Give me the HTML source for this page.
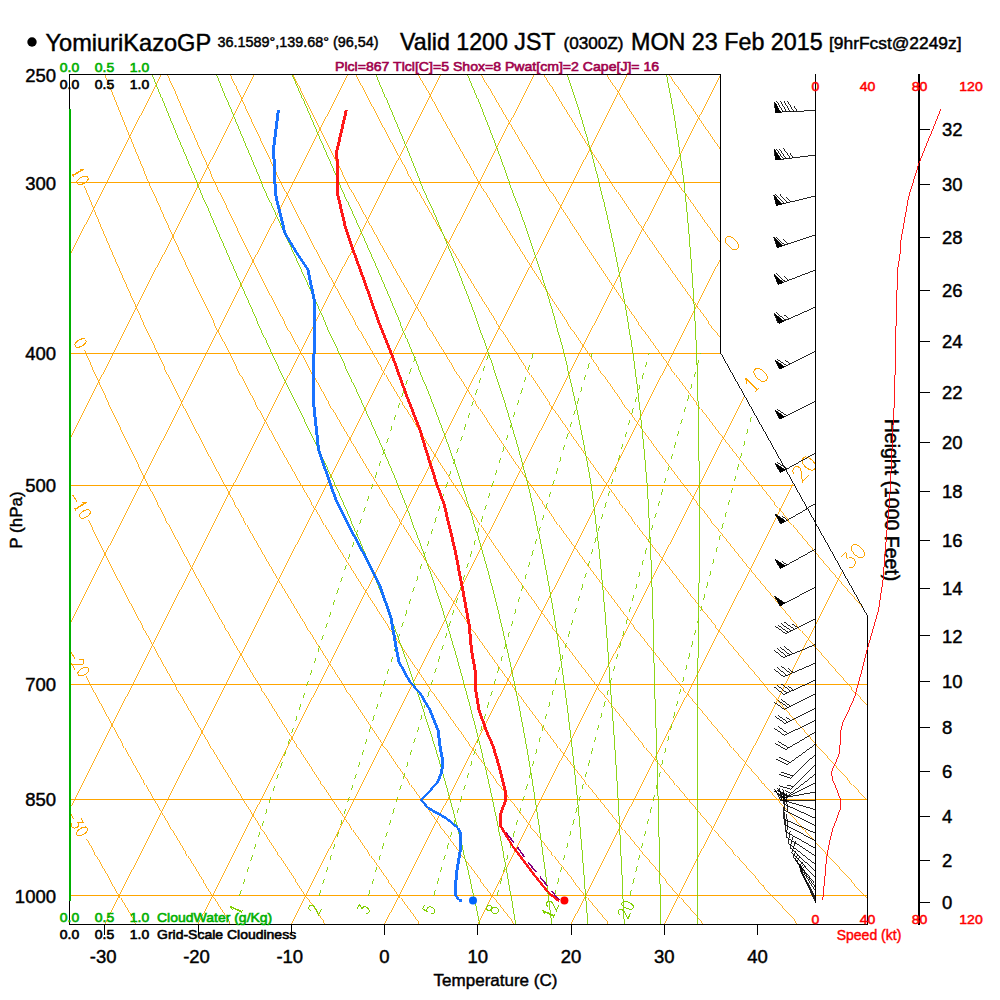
<!DOCTYPE html>
<html><head><meta charset="utf-8"><title>Skew-T</title>
<style>
html,body{margin:0;padding:0;background:#fff}
svg{display:block}
text{font-family:"Liberation Sans",sans-serif}
</style></head>
<body>
<svg width="1000" height="1000" viewBox="0 0 1000 1000">
<rect width="1000" height="1000" fill="#fff"/>
<defs><clipPath id="fr"><polygon points="69.5,74.5 720.5,74.5 720.5,352.8 867.5,616 867.5,924.4 69.5,924.4"/></clipPath></defs>
<g shape-rendering="crispEdges">
<g clip-path="url(#fr)" stroke="#ffa500" stroke-width="0.85" fill="none">
<line x1="69.5" y1="182.5" x2="720.5" y2="182.5" stroke-width="1"/>
<line x1="69.5" y1="353.5" x2="720.5" y2="353.5" stroke-width="1"/>
<line x1="69.5" y1="485.5" x2="794.6" y2="485.5" stroke-width="1"/>
<line x1="69.5" y1="684.5" x2="867.5" y2="684.5" stroke-width="1"/>
<line x1="69.5" y1="799.5" x2="867.5" y2="799.5" stroke-width="1"/>
<line x1="69.5" y1="895.5" x2="867.5" y2="895.5" stroke-width="1"/>
<line x1="-361.5" y1="924.4" x2="67.4" y2="74.5"/>
<line x1="-268.2" y1="924.4" x2="160.7" y2="74.5"/>
<line x1="-175" y1="924.4" x2="253.9" y2="74.5"/>
<line x1="-81.7" y1="924.4" x2="347.2" y2="74.5"/>
<line x1="11.5" y1="924.4" x2="440.4" y2="74.5"/>
<line x1="104.8" y1="924.4" x2="533.7" y2="74.5"/>
<line x1="198" y1="924.4" x2="626.9" y2="74.5"/>
<line x1="291.2" y1="924.4" x2="720.2" y2="74.5"/>
<line x1="384.5" y1="924.4" x2="813.4" y2="74.5"/>
<line x1="477.8" y1="924.4" x2="906.7" y2="74.5"/>
<line x1="571" y1="924.4" x2="999.9" y2="74.5"/>
<line x1="664.2" y1="924.4" x2="1093.2" y2="74.5"/>
<polyline points="136.6,924.4 134.9,921.5 133.2,918.7 131.5,915.8 129.7,913 128,910.1 126.3,907.2 124.6,904.3 122.8,901.4 121.1,898.4 119.3,895.5 117.6,892.5 115.8,889.5 114.1,886.5 112.3,883.5 110.5,880.5 108.8,877.4 107,874.4 105.2,871.3 103.4,868.2 101.6,865.1 99.9,862 98.1,858.8 96.3,855.7 94.4,852.5 92.6,849.3 90.8,846.1 89,842.9 87.2,839.6 86.6,838.5"/>
<polyline points="231.2,924.4 229.3,921.5 227.5,918.7 225.6,915.8 223.8,913 221.9,910.1 220.1,907.2 218.2,904.3 216.3,901.4 214.5,898.4 212.6,895.5 210.7,892.5 208.8,889.5 206.9,886.5 205,883.5 203.1,880.5 201.2,877.4 199.3,874.4 197.4,871.3 195.5,868.2 193.5,865.1 191.6,862 189.7,858.8 187.7,855.7 185.8,852.5 183.8,849.3 181.9,846.1 179.9,842.9 177.9,839.6 176,836.3 174,833.1 172,829.8 170,826.5 168,823.1 166,819.8 164,816.4 162,813 160,809.6 158,806.1 156,802.7 153.9,799.2 151.9,795.7 149.9,792.2 147.8,788.7 145.8,785.1 143.7,781.5 141.6,777.9 139.6,774.3 137.5,770.7 135.4,767 133.3,763.3 131.2,759.6 129.1,755.9 127,752.1 124.9,748.3 122.8,744.5 120.7,740.7 118.5,736.8 116.4,732.9 114.3,729 112.1,725.1 110,721.1 107.8,717.1 105.6,713.1 103.5,709.1 101.3,705 99.1,700.9 96.9,696.8 94.7,692.6 92.5,688.5 90.3,684.2 88,680 85.9,676"/>
<polyline points="325.7,924.4 323.8,921.5 321.8,918.7 319.8,915.8 317.8,913 315.8,910.1 313.9,907.2 311.9,904.3 309.9,901.4 307.8,898.4 305.8,895.5 303.8,892.5 301.8,889.5 299.8,886.5 297.7,883.5 295.7,880.5 293.7,877.4 291.6,874.4 289.6,871.3 287.5,868.2 285.4,865.1 283.4,862 281.3,858.8 279.2,855.7 277.1,852.5 275,849.3 272.9,846.1 270.8,842.9 268.7,839.6 266.6,836.3 264.5,833.1 262.4,829.8 260.2,826.5 258.1,823.1 255.9,819.8 253.8,816.4 251.6,813 249.5,809.6 247.3,806.1 245.1,802.7 243,799.2 240.8,795.7 238.6,792.2 236.4,788.7 234.2,785.1 232,781.5 229.8,777.9 227.5,774.3 225.3,770.7 223.1,767 220.8,763.3 218.6,759.6 216.3,755.9 214,752.1 211.8,748.3 209.5,744.5 207.2,740.7 204.9,736.8 202.6,732.9 200.3,729 198,725.1 195.7,721.1 193.4,717.1 191,713.1 188.7,709.1 186.3,705 184,700.9 181.6,696.8 179.2,692.6 176.9,688.5 174.5,684.2 172.1,680 169.7,675.7 167.3,671.4 164.8,667.1 162.4,662.7 160,658.3 157.5,653.9 155.1,649.4 152.6,644.9 150.1,640.4 147.7,635.8 145.2,631.2 142.7,626.5 140.2,621.8 137.7,617.1 135.1,612.4 132.6,607.6 130.1,602.7 127.5,597.9 125,593 122.4,588 119.8,583 117.2,578 114.6,572.9 112,567.7 109.4,562.6 106.8,557.4 104.2,552.1 101.5,546.8 98.9,541.4 96.2,536 93.5,530.6 90.8,525 88.4,520"/>
<polyline points="420.3,924.4 418.2,921.5 416.1,918.7 414,915.8 411.9,913 409.8,910.1 407.6,907.2 405.5,904.3 403.4,901.4 401.2,898.4 399.1,895.5 396.9,892.5 394.8,889.5 392.6,886.5 390.4,883.5 388.3,880.5 386.1,877.4 383.9,874.4 381.7,871.3 379.5,868.2 377.3,865.1 375.1,862 372.9,858.8 370.7,855.7 368.5,852.5 366.2,849.3 364,846.1 361.7,842.9 359.5,839.6 357.2,836.3 355,833.1 352.7,829.8 350.4,826.5 348.1,823.1 345.8,819.8 343.6,816.4 341.3,813 338.9,809.6 336.6,806.1 334.3,802.7 332,799.2 329.6,795.7 327.3,792.2 324.9,788.7 322.6,785.1 320.2,781.5 317.9,777.9 315.5,774.3 313.1,770.7 310.7,767 308.3,763.3 305.9,759.6 303.5,755.9 301.1,752.1 298.6,748.3 296.2,744.5 293.7,740.7 291.3,736.8 288.8,732.9 286.4,729 283.9,725.1 281.4,721.1 278.9,717.1 276.4,713.1 273.9,709.1 271.4,705 268.9,700.9 266.3,696.8 263.8,692.6 261.2,688.5 258.7,684.2 256.1,680 253.5,675.7 250.9,671.4 248.3,667.1 245.7,662.7 243.1,658.3 240.5,653.9 237.9,649.4 235.2,644.9 232.6,640.4 229.9,635.8 227.3,631.2 224.6,626.5 221.9,621.8 219.2,617.1 216.5,612.4 213.8,607.6 211,602.7 208.3,597.9 205.5,593 202.8,588 200,583 197.2,578 194.4,572.9 191.6,567.7 188.8,562.6 186,557.4 183.2,552.1 180.3,546.8 177.5,541.4 174.6,536 171.7,530.6 168.8,525 165.9,519.5 163,513.9 160.1,508.2 157.1,502.5 154.2,496.7 151.2,490.9 148.2,485 145.2,479 142.2,473 139.2,466.9 136.2,460.8 133.1,454.6 130.1,448.3 127,442 123.9,435.6 120.8,429.1 117.7,422.6 114.6,416 111.4,409.3 108.3,402.5 105.1,395.7 101.9,388.7 98.7,381.7 95.5,374.6 92.3,367.5 89,360.2 85.7,352.8 84.5,350"/>
<polyline points="514.9,924.4 512.6,921.5 510.4,918.7 508.2,915.8 505.9,913 503.7,910.1 501.4,907.2 499.1,904.3 496.9,901.4 494.6,898.4 492.3,895.5 490,892.5 487.8,889.5 485.5,886.5 483.2,883.5 480.9,880.5 478.5,877.4 476.2,874.4 473.9,871.3 471.6,868.2 469.2,865.1 466.9,862 464.5,858.8 462.2,855.7 459.8,852.5 457.4,849.3 455,846.1 452.6,842.9 450.3,839.6 447.9,836.3 445.4,833.1 443,829.8 440.6,826.5 438.2,823.1 435.8,819.8 433.3,816.4 430.9,813 428.4,809.6 425.9,806.1 423.5,802.7 421,799.2 418.5,795.7 416,792.2 413.5,788.7 411,785.1 408.5,781.5 406,777.9 403.4,774.3 400.9,770.7 398.3,767 395.8,763.3 393.2,759.6 390.6,755.9 388.1,752.1 385.5,748.3 382.9,744.5 380.3,740.7 377.7,736.8 375,732.9 372.4,729 369.8,725.1 367.1,721.1 364.5,717.1 361.8,713.1 359.1,709.1 356.4,705 353.7,700.9 351,696.8 348.3,692.6 345.6,688.5 342.9,684.2 340.1,680 337.4,675.7 334.6,671.4 331.9,667.1 329.1,662.7 326.3,658.3 323.5,653.9 320.7,649.4 317.9,644.9 315,640.4 312.2,635.8 309.3,631.2 306.5,626.5 303.6,621.8 300.7,617.1 297.8,612.4 294.9,607.6 292,602.7 289.1,597.9 286.1,593 283.2,588 280.2,583 277.2,578 274.2,572.9 271.2,567.7 268.2,562.6 265.2,557.4 262.2,552.1 259.1,546.8 256,541.4 253,536 249.9,530.6 246.8,525 243.7,519.5 240.5,513.9 237.4,508.2 234.2,502.5 231.1,496.7 227.9,490.9 224.7,485 221.5,479 218.3,473 215,466.9 211.8,460.8 208.5,454.6 205.2,448.3 201.9,442 198.6,435.6 195.2,429.1 191.9,422.6 188.5,416 185.2,409.3 181.8,402.5 178.3,395.7 174.9,388.7 171.5,381.7 168,374.6 164.5,367.5 161,360.2 157.5,352.8 154,345.4 150.4,337.8 146.8,330.2 143.2,322.5 139.6,314.6 136,306.7 132.4,298.6 128.7,290.4 125,282.2 121.3,273.8 117.6,265.2 113.8,256.6 110,247.8 106.2,238.9 102.4,229.9 98.6,220.7 94.7,211.4 90.8,201.9 86.9,192.3 84.4,186"/>
<polyline points="609.4,924.4 607.1,921.5 604.7,918.7 602.3,915.8 600,913 597.6,910.1 595.2,907.2 592.8,904.3 590.4,901.4 588,898.4 585.6,895.5 583.2,892.5 580.7,889.5 578.3,886.5 575.9,883.5 573.4,880.5 571,877.4 568.5,874.4 566.1,871.3 563.6,868.2 561.1,865.1 558.6,862 556.1,858.8 553.6,855.7 551.1,852.5 548.6,849.3 546.1,846.1 543.6,842.9 541,839.6 538.5,836.3 535.9,833.1 533.4,829.8 530.8,826.5 528.2,823.1 525.7,819.8 523.1,816.4 520.5,813 517.9,809.6 515.3,806.1 512.6,802.7 510,799.2 507.4,795.7 504.7,792.2 502.1,788.7 499.4,785.1 496.7,781.5 494.1,777.9 491.4,774.3 488.7,770.7 486,767 483.3,763.3 480.5,759.6 477.8,755.9 475.1,752.1 472.3,748.3 469.6,744.5 466.8,740.7 464,736.8 461.3,732.9 458.5,729 455.7,725.1 452.8,721.1 450,717.1 447.2,713.1 444.3,709.1 441.5,705 438.6,700.9 435.8,696.8 432.9,692.6 430,688.5 427.1,684.2 424.2,680 421.2,675.7 418.3,671.4 415.4,667.1 412.4,662.7 409.4,658.3 406.5,653.9 403.5,649.4 400.5,644.9 397.5,640.4 394.4,635.8 391.4,631.2 388.4,626.5 385.3,621.8 382.2,617.1 379.1,612.4 376.1,607.6 372.9,602.7 369.8,597.9 366.7,593 363.5,588 360.4,583 357.2,578 354,572.9 350.8,567.7 347.6,562.6 344.4,557.4 341.2,552.1 337.9,546.8 334.6,541.4 331.4,536 328.1,530.6 324.8,525 321.4,519.5 318.1,513.9 314.7,508.2 311.4,502.5 308,496.7 304.6,490.9 301.2,485 297.7,479 294.3,473 290.8,466.9 287.4,460.8 283.9,454.6 280.3,448.3 276.8,442 273.3,435.6 269.7,429.1 266.1,422.6 262.5,416 258.9,409.3 255.3,402.5 251.6,395.7 247.9,388.7 244.2,381.7 240.5,374.6 236.8,367.5 233,360.2 229.3,352.8 225.5,345.4 221.6,337.8 217.8,330.2 214,322.5 210.1,314.6 206.2,306.7 202.2,298.6 198.3,290.4 194.3,282.2 190.3,273.8 186.3,265.2 182.3,256.6 178.2,247.8 174.1,238.9 170,229.9 165.9,220.7 161.7,211.4 157.6,201.9 153.3,192.3 149.1,182.5 144.8,172.5 140.5,162.4 136.2,152.1 131.9,141.6 127.5,130.9 123.1,120.1 118.6,109 114.2,97.7 109.7,86.2 105.2,74.5"/>
<polyline points="704,924.4 701.5,921.5 699,918.7 696.5,915.8 694,913 691.5,910.1 689,907.2 686.4,904.3 683.9,901.4 681.4,898.4 678.8,895.5 676.3,892.5 673.7,889.5 671.2,886.5 668.6,883.5 666,880.5 663.4,877.4 660.8,874.4 658.2,871.3 655.6,868.2 653,865.1 650.4,862 647.7,858.8 645.1,855.7 642.5,852.5 639.8,849.3 637.1,846.1 634.5,842.9 631.8,839.6 629.1,836.3 626.4,833.1 623.7,829.8 621,826.5 618.3,823.1 615.6,819.8 612.8,816.4 610.1,813 607.3,809.6 604.6,806.1 601.8,802.7 599,799.2 596.2,795.7 593.4,792.2 590.6,788.7 587.8,785.1 585,781.5 582.2,777.9 579.3,774.3 576.5,770.7 573.6,767 570.8,763.3 567.9,759.6 565,755.9 562.1,752.1 559.2,748.3 556.3,744.5 553.3,740.7 550.4,736.8 547.5,732.9 544.5,729 541.5,725.1 538.6,721.1 535.6,717.1 532.6,713.1 529.6,709.1 526.6,705 523.5,700.9 520.5,696.8 517.4,692.6 514.4,688.5 511.3,684.2 508.2,680 505.1,675.7 502,671.4 498.9,667.1 495.7,662.7 492.6,658.3 489.4,653.9 486.3,649.4 483.1,644.9 479.9,640.4 476.7,635.8 473.5,631.2 470.3,626.5 467,621.8 463.8,617.1 460.5,612.4 457.2,607.6 453.9,602.7 450.6,597.9 447.3,593 443.9,588 440.6,583 437.2,578 433.8,572.9 430.4,567.7 427,562.6 423.6,557.4 420.2,552.1 416.7,546.8 413.2,541.4 409.8,536 406.3,530.6 402.7,525 399.2,519.5 395.7,513.9 392.1,508.2 388.5,502.5 384.9,496.7 381.3,490.9 377.7,485 374,479 370.3,473 366.6,466.9 362.9,460.8 359.2,454.6 355.5,448.3 351.7,442 347.9,435.6 344.1,429.1 340.3,422.6 336.5,416 332.6,409.3 328.7,402.5 324.8,395.7 320.9,388.7 317,381.7 313,374.6 309,367.5 305,360.2 301,352.8 297,345.4 292.9,337.8 288.8,330.2 284.7,322.5 280.5,314.6 276.3,306.7 272.1,298.6 267.9,290.4 263.7,282.2 259.4,273.8 255.1,265.2 250.8,256.6 246.4,247.8 242.1,238.9 237.7,229.9 233.2,220.7 228.8,211.4 224.3,201.9 219.7,192.3 215.2,182.5 210.6,172.5 206,162.4 201.3,152.1 196.7,141.6 192,130.9 187.2,120.1 182.4,109 177.6,97.7 172.8,86.2 167.9,74.5"/>
<polyline points="798.5,924.4 795.9,921.5 793.3,918.7 790.7,915.8 788,913 785.4,910.1 782.7,907.2 780.1,904.3 777.4,901.4 774.8,898.4 772.1,895.5 769.4,892.5 766.7,889.5 764,886.5 761.3,883.5 758.6,880.5 755.9,877.4 753.1,874.4 750.4,871.3 747.6,868.2 744.9,865.1 742.1,862 739.4,858.8 736.6,855.7 733.8,852.5 731,849.3 728.2,846.1 725.4,842.9 722.6,839.6 719.7,836.3 716.9,833.1 714,829.8 711.2,826.5 708.3,823.1 705.5,819.8 702.6,816.4 699.7,813 696.8,809.6 693.9,806.1 691,802.7 688,799.2 685.1,795.7 682.2,792.2 679.2,788.7 676.2,785.1 673.3,781.5 670.3,777.9 667.3,774.3 664.3,770.7 661.3,767 658.2,763.3 655.2,759.6 652.2,755.9 649.1,752.1 646,748.3 643,744.5 639.9,740.7 636.8,736.8 633.7,732.9 630.6,729 627.4,725.1 624.3,721.1 621.1,717.1 618,713.1 614.8,709.1 611.6,705 608.4,700.9 605.2,696.8 602,692.6 598.7,688.5 595.5,684.2 592.2,680 589,675.7 585.7,671.4 582.4,667.1 579.1,662.7 575.8,658.3 572.4,653.9 569.1,649.4 565.7,644.9 562.3,640.4 559,635.8 555.6,631.2 552.1,626.5 548.7,621.8 545.3,617.1 541.8,612.4 538.3,607.6 534.9,602.7 531.4,597.9 527.8,593 524.3,588 520.8,583 517.2,578 513.6,572.9 510,567.7 506.4,562.6 502.8,557.4 499.2,552.1 495.5,546.8 491.8,541.4 488.1,536 484.4,530.6 480.7,525 477,519.5 473.2,513.9 469.4,508.2 465.6,502.5 461.8,496.7 458,490.9 454.1,485 450.3,479 446.4,473 442.5,466.9 438.5,460.8 434.6,454.6 430.6,448.3 426.6,442 422.6,435.6 418.6,429.1 414.5,422.6 410.5,416 406.4,409.3 402.2,402.5 398.1,395.7 393.9,388.7 389.7,381.7 385.5,374.6 381.3,367.5 377,360.2 372.8,352.8 368.4,345.4 364.1,337.8 359.8,330.2 355.4,322.5 351,314.6 346.5,306.7 342,298.6 337.6,290.4 333,282.2 328.5,273.8 323.9,265.2 319.3,256.6 314.6,247.8 310,238.9 305.3,229.9 300.5,220.7 295.8,211.4 291,201.9 286.1,192.3 281.3,182.5 276.4,172.5 271.4,162.4 266.5,152.1 261.5,141.6 256.4,130.9 251.3,120.1 246.2,109 241.1,97.7 235.9,86.2 230.6,74.5"/>
<polyline points="893.1,924.4 890.4,921.5 887.6,918.7 884.8,915.8 882.1,913 879.3,910.1 876.5,907.2 873.7,904.3 870.9,901.4 868.1,898.4 865.3,895.5 862.5,892.5 859.7,889.5 856.9,886.5 854,883.5 851.2,880.5 848.3,877.4 845.4,874.4 842.6,871.3 839.7,868.2 836.8,865.1 833.9,862 831,858.8 828.1,855.7 825.1,852.5 822.2,849.3 819.2,846.1 816.3,842.9 813.3,839.6 810.4,836.3 807.4,833.1 804.4,829.8 801.4,826.5 798.4,823.1 795.4,819.8 792.3,816.4 789.3,813 786.2,809.6 783.2,806.1 780.1,802.7 777,799.2 774,795.7 770.9,792.2 767.8,788.7 764.6,785.1 761.5,781.5 758.4,777.9 755.2,774.3 752.1,770.7 748.9,767 745.7,763.3 742.5,759.6 739.3,755.9 736.1,752.1 732.9,748.3 729.7,744.5 726.4,740.7 723.2,736.8 719.9,732.9 716.6,729 713.3,725.1 710,721.1 706.7,717.1 703.4,713.1 700,709.1 696.7,705 693.3,700.9 689.9,696.8 686.5,692.6 683.1,688.5 679.7,684.2 676.3,680 672.8,675.7 669.4,671.4 665.9,667.1 662.4,662.7 658.9,658.3 655.4,653.9 651.9,649.4 648.3,644.9 644.8,640.4 641.2,635.8 637.6,631.2 634,626.5 630.4,621.8 626.8,617.1 623.1,612.4 619.5,607.6 615.8,602.7 612.1,597.9 608.4,593 604.7,588 601,583 597.2,578 593.4,572.9 589.6,567.7 585.8,562.6 582,557.4 578.2,552.1 574.3,546.8 570.4,541.4 566.5,536 562.6,530.6 558.7,525 554.7,519.5 550.8,513.9 546.8,508.2 542.8,502.5 538.7,496.7 534.7,490.9 530.6,485 526.5,479 522.4,473 518.3,466.9 514.1,460.8 510,454.6 505.8,448.3 501.5,442 497.3,435.6 493,429.1 488.7,422.6 484.4,416 480.1,409.3 475.7,402.5 471.4,395.7 466.9,388.7 462.5,381.7 458,374.6 453.6,367.5 449,360.2 444.5,352.8 439.9,345.4 435.3,337.8 430.7,330.2 426.1,322.5 421.4,314.6 416.7,306.7 411.9,298.6 407.2,290.4 402.4,282.2 397.5,273.8 392.7,265.2 387.8,256.6 382.8,247.8 377.9,238.9 372.9,229.9 367.9,220.7 362.8,211.4 357.7,201.9 352.5,192.3 347.4,182.5 342.1,172.5 336.9,162.4 331.6,152.1 326.3,141.6 320.9,130.9 315.5,120.1 310,109 304.5,97.7 298.9,86.2 293.3,74.5"/>
<polyline points="987.7,924.4 984.8,921.5 981.9,918.7 979,915.8 976.1,913 973.2,910.1 970.3,907.2 967.4,904.3 964.5,901.4 961.5,898.4 958.6,895.5 955.6,892.5 952.7,889.5 949.7,886.5 946.7,883.5 943.7,880.5 940.7,877.4 937.7,874.4 934.7,871.3 931.7,868.2 928.7,865.1 925.6,862 922.6,858.8 919.5,855.7 916.5,852.5 913.4,849.3 910.3,846.1 907.2,842.9 904.1,839.6 901,836.3 897.9,833.1 894.7,829.8 891.6,826.5 888.4,823.1 885.3,819.8 882.1,816.4 878.9,813 875.7,809.6 872.5,806.1 869.3,802.7 866.1,799.2 862.8,795.7 859.6,792.2 856.3,788.7 853.1,785.1 849.8,781.5 846.5,777.9 843.2,774.3 839.9,770.7 836.5,767 833.2,763.3 829.9,759.6 826.5,755.9 823.1,752.1 819.7,748.3 816.4,744.5 812.9,740.7 809.5,736.8 806.1,732.9 802.7,729 799.2,725.1 795.7,721.1 792.2,717.1 788.7,713.1 785.2,709.1 781.7,705 778.2,700.9 774.6,696.8 771.1,692.6 767.5,688.5 763.9,684.2 760.3,680 756.7,675.7 753.1,671.4 749.4,667.1 745.8,662.7 742.1,658.3 738.4,653.9 734.7,649.4 731,644.9 727.2,640.4 723.5,635.8 719.7,631.2 715.9,626.5 712.1,621.8 708.3,617.1 704.5,612.4 700.6,607.6 696.8,602.7 692.9,597.9 689,593 685.1,588 681.1,583 677.2,578 673.2,572.9 669.2,567.7 665.2,562.6 661.2,557.4 657.2,552.1 653.1,546.8 649,541.4 644.9,536 640.8,530.6 636.7,525 632.5,519.5 628.3,513.9 624.1,508.2 619.9,502.5 615.7,496.7 611.4,490.9 607.1,485 602.8,479 598.5,473 594.1,466.9 589.7,460.8 585.3,454.6 580.9,448.3 576.4,442 572,435.6 567.5,429.1 563,422.6 558.4,416 553.8,409.3 549.2,402.5 544.6,395.7 540,388.7 535.3,381.7 530.6,374.6 525.8,367.5 521.1,360.2 516.3,352.8 511.4,345.4 506.6,337.8 501.7,330.2 496.8,322.5 491.8,314.6 486.9,306.7 481.8,298.6 476.8,290.4 471.7,282.2 466.6,273.8 461.5,265.2 456.3,256.6 451.1,247.8 445.8,238.9 440.5,229.9 435.2,220.7 429.8,211.4 424.4,201.9 418.9,192.3 413.4,182.5 407.9,172.5 402.3,162.4 396.7,152.1 391,141.6 385.3,130.9 379.6,120.1 373.8,109 367.9,97.7 362,86.2 356.1,74.5"/>
<polyline points="1082.2,924.4 1079.2,921.5 1076.2,918.7 1073.2,915.8 1070.2,913 1067.1,910.1 1064.1,907.2 1061,904.3 1058,901.4 1054.9,898.4 1051.8,895.5 1048.7,892.5 1045.7,889.5 1042.5,886.5 1039.4,883.5 1036.3,880.5 1033.2,877.4 1030,874.4 1026.9,871.3 1023.7,868.2 1020.6,865.1 1017.4,862 1014.2,858.8 1011,855.7 1007.8,852.5 1004.6,849.3 1001.3,846.1 998.1,842.9 994.9,839.6 991.6,836.3 988.3,833.1 985.1,829.8 981.8,826.5 978.5,823.1 975.2,819.8 971.8,816.4 968.5,813 965.2,809.6 961.8,806.1 958.5,802.7 955.1,799.2 951.7,795.7 948.3,792.2 944.9,788.7 941.5,785.1 938,781.5 934.6,777.9 931.1,774.3 927.7,770.7 924.2,767 920.7,763.3 917.2,759.6 913.7,755.9 910.1,752.1 906.6,748.3 903,744.5 899.5,740.7 895.9,736.8 892.3,732.9 888.7,729 885.1,725.1 881.4,721.1 877.8,717.1 874.1,713.1 870.5,709.1 866.8,705 863.1,700.9 859.4,696.8 855.6,692.6 851.9,688.5 848.1,684.2 844.3,680 840.6,675.7 836.7,671.4 832.9,667.1 829.1,662.7 825.2,658.3 821.4,653.9 817.5,649.4 813.6,644.9 809.7,640.4 805.7,635.8 801.8,631.2 797.8,626.5 793.8,621.8 789.8,617.1 785.8,612.4 781.8,607.6 777.7,602.7 773.7,597.9 769.6,593 765.5,588 761.3,583 757.2,578 753,572.9 748.8,567.7 744.6,562.6 740.4,557.4 736.2,552.1 731.9,546.8 727.6,541.4 723.3,536 719,530.6 714.6,525 710.3,519.5 705.9,513.9 701.5,508.2 697,502.5 692.6,496.7 688.1,490.9 683.6,485 679,479 674.5,473 669.9,466.9 665.3,460.8 660.7,454.6 656,448.3 651.4,442 646.7,435.6 641.9,429.1 637.2,422.6 632.4,416 627.6,409.3 622.7,402.5 617.9,395.7 613,388.7 608,381.7 603.1,374.6 598.1,367.5 593.1,360.2 588,352.8 582.9,345.4 577.8,337.8 572.7,330.2 567.5,322.5 562.3,314.6 557,306.7 551.7,298.6 546.4,290.4 541.1,282.2 535.7,273.8 530.2,265.2 524.8,256.6 519.3,247.8 513.7,238.9 508.1,229.9 502.5,220.7 496.8,211.4 491.1,201.9 485.3,192.3 479.5,182.5 473.7,172.5 467.8,162.4 461.8,152.1 455.8,141.6 449.8,130.9 443.7,120.1 437.6,109 431.4,97.7 425.1,86.2 418.8,74.5"/>
<polyline points="1176.8,924.4 1173.6,921.5 1170.5,918.7 1167.4,915.8 1164.2,913 1161,910.1 1157.9,907.2 1154.7,904.3 1151.5,901.4 1148.3,898.4 1145.1,895.5 1141.9,892.5 1138.6,889.5 1135.4,886.5 1132.1,883.5 1128.9,880.5 1125.6,877.4 1122.3,874.4 1119.1,871.3 1115.8,868.2 1112.5,865.1 1109.1,862 1105.8,858.8 1102.5,855.7 1099.1,852.5 1095.8,849.3 1092.4,846.1 1089,842.9 1085.6,839.6 1082.2,836.3 1078.8,833.1 1075.4,829.8 1072,826.5 1068.5,823.1 1065.1,819.8 1061.6,816.4 1058.1,813 1054.6,809.6 1051.1,806.1 1047.6,802.7 1044.1,799.2 1040.6,795.7 1037,792.2 1033.4,788.7 1029.9,785.1 1026.3,781.5 1022.7,777.9 1019.1,774.3 1015.5,770.7 1011.8,767 1008.2,763.3 1004.5,759.6 1000.8,755.9 997.2,752.1 993.5,748.3 989.7,744.5 986,740.7 982.3,736.8 978.5,732.9 974.7,729 971,725.1 967.2,721.1 963.4,717.1 959.5,713.1 955.7,709.1 951.8,705 948,700.9 944.1,696.8 940.2,692.6 936.3,688.5 932.3,684.2 928.4,680 924.4,675.7 920.4,671.4 916.4,667.1 912.4,662.7 908.4,658.3 904.3,653.9 900.3,649.4 896.2,644.9 892.1,640.4 888,635.8 883.9,631.2 879.7,626.5 875.5,621.8 871.4,617.1 867.2,612.4 862.9,607.6 858.7,602.7 854.4,597.9 850.1,593 845.8,588 841.5,583 837.2,578 832.8,572.9 828.4,567.7 824,562.6 819.6,557.4 815.2,552.1 810.7,546.8 806.2,541.4 801.7,536 797.2,530.6 792.6,525 788,519.5 783.4,513.9 778.8,508.2 774.2,502.5 769.5,496.7 764.8,490.9 760.1,485 755.3,479 750.5,473 745.7,466.9 740.9,460.8 736.1,454.6 731.2,448.3 726.3,442 721.3,435.6 716.4,429.1 711.4,422.6 706.4,416 701.3,409.3 696.2,402.5 691.1,395.7 686,388.7 680.8,381.7 675.6,374.6 670.3,367.5 665.1,360.2 659.8,352.8 654.4,345.4 649.1,337.8 643.6,330.2 638.2,322.5 632.7,314.6 627.2,306.7 621.6,298.6 616,290.4 610.4,282.2 604.7,273.8 599,265.2 593.3,256.6 587.5,247.8 581.6,238.9 575.7,229.9 569.8,220.7 563.8,211.4 557.8,201.9 551.7,192.3 545.6,182.5 539.4,172.5 533.2,162.4 527,152.1 520.6,141.6 514.3,130.9 507.8,120.1 501.3,109 494.8,97.7 488.2,86.2 481.5,74.5"/>
<polyline points="1271.3,924.4 1268.1,921.5 1264.8,918.7 1261.5,915.8 1258.2,913 1255,910.1 1251.6,907.2 1248.3,904.3 1245,901.4 1241.7,898.4 1238.3,895.5 1235,892.5 1231.6,889.5 1228.2,886.5 1224.9,883.5 1221.5,880.5 1218.1,877.4 1214.7,874.4 1211.2,871.3 1207.8,868.2 1204.3,865.1 1200.9,862 1197.4,858.8 1193.9,855.7 1190.5,852.5 1187,849.3 1183.5,846.1 1179.9,842.9 1176.4,839.6 1172.9,836.3 1169.3,833.1 1165.7,829.8 1162.2,826.5 1158.6,823.1 1155,819.8 1151.4,816.4 1147.7,813 1144.1,809.6 1140.4,806.1 1136.8,802.7 1133.1,799.2 1129.4,795.7 1125.7,792.2 1122,788.7 1118.3,785.1 1114.5,781.5 1110.8,777.9 1107,774.3 1103.3,770.7 1099.5,767 1095.7,763.3 1091.8,759.6 1088,755.9 1084.2,752.1 1080.3,748.3 1076.4,744.5 1072.5,740.7 1068.6,736.8 1064.7,732.9 1060.8,729 1056.8,725.1 1052.9,721.1 1048.9,717.1 1044.9,713.1 1040.9,709.1 1036.9,705 1032.8,700.9 1028.8,696.8 1024.7,692.6 1020.6,688.5 1016.5,684.2 1012.4,680 1008.3,675.7 1004.1,671.4 999.9,667.1 995.8,662.7 991.6,658.3 987.3,653.9 983.1,649.4 978.8,644.9 974.5,640.4 970.3,635.8 965.9,631.2 961.6,626.5 957.2,621.8 952.9,617.1 948.5,612.4 944.1,607.6 939.6,602.7 935.2,597.9 930.7,593 926.2,588 921.7,583 917.2,578 912.6,572.9 908,567.7 903.4,562.6 898.8,557.4 894.2,552.1 889.5,546.8 884.8,541.4 880.1,536 875.3,530.6 870.6,525 865.8,519.5 861,513.9 856.1,508.2 851.3,502.5 846.4,496.7 841.5,490.9 836.5,485 831.6,479 826.6,473 821.6,466.9 816.5,460.8 811.4,454.6 806.3,448.3 801.2,442 796,435.6 790.8,429.1 785.6,422.6 780.3,416 775,409.3 769.7,402.5 764.4,395.7 759,388.7 753.6,381.7 748.1,374.6 742.6,367.5 737.1,360.2 731.5,352.8 725.9,345.4 720.3,337.8 714.6,330.2 708.9,322.5 703.2,314.6 697.4,306.7 691.5,298.6 685.7,290.4 679.8,282.2 673.8,273.8 667.8,265.2 661.8,256.6 655.7,247.8 649.5,238.9 643.3,229.9 637.1,220.7 630.8,211.4 624.5,201.9 618.1,192.3 611.7,182.5 605.2,172.5 598.7,162.4 592.1,152.1 585.4,141.6 578.7,130.9 572,120.1 565.1,109 558.2,97.7 551.3,86.2 544.3,74.5"/>
<polyline points="1365.9,924.4 1362.5,921.5 1359.1,918.7 1355.7,915.8 1352.3,913 1348.9,910.1 1345.4,907.2 1342,904.3 1338.5,901.4 1335.1,898.4 1331.6,895.5 1328.1,892.5 1324.6,889.5 1321.1,886.5 1317.6,883.5 1314,880.5 1310.5,877.4 1307,874.4 1303.4,871.3 1299.8,868.2 1296.2,865.1 1292.6,862 1289,858.8 1285.4,855.7 1281.8,852.5 1278.2,849.3 1274.5,846.1 1270.8,842.9 1267.2,839.6 1263.5,836.3 1259.8,833.1 1256.1,829.8 1252.4,826.5 1248.6,823.1 1244.9,819.8 1241.1,816.4 1237.3,813 1233.6,809.6 1229.8,806.1 1225.9,802.7 1222.1,799.2 1218.3,795.7 1214.4,792.2 1210.6,788.7 1206.7,785.1 1202.8,781.5 1198.9,777.9 1195,774.3 1191.1,770.7 1187.1,767 1183.1,763.3 1179.2,759.6 1175.2,755.9 1171.2,752.1 1167.2,748.3 1163.1,744.5 1159.1,740.7 1155,736.8 1150.9,732.9 1146.8,729 1142.7,725.1 1138.6,721.1 1134.5,717.1 1130.3,713.1 1126.1,709.1 1121.9,705 1117.7,700.9 1113.5,696.8 1109.3,692.6 1105,688.5 1100.7,684.2 1096.4,680 1092.1,675.7 1087.8,671.4 1083.5,667.1 1079.1,662.7 1074.7,658.3 1070.3,653.9 1065.9,649.4 1061.4,644.9 1057,640.4 1052.5,635.8 1048,631.2 1043.5,626.5 1039,621.8 1034.4,617.1 1029.8,612.4 1025.2,607.6 1020.6,602.7 1016,597.9 1011.3,593 1006.6,588 1001.9,583 997.2,578 992.4,572.9 987.6,567.7 982.8,562.6 978,557.4 973.2,552.1 968.3,546.8 963.4,541.4 958.5,536 953.5,530.6 948.6,525 943.6,519.5 938.5,513.9 933.5,508.2 928.4,502.5 923.3,496.7 918.2,490.9 913,485 907.8,479 902.6,473 897.4,466.9 892.1,460.8 886.8,454.6 881.5,448.3 876.1,442 870.7,435.6 865.3,429.1 859.8,422.6 854.3,416 848.8,409.3 843.2,402.5 837.6,395.7 832,388.7 826.3,381.7 820.6,374.6 814.9,367.5 809.1,360.2 803.3,352.8 797.4,345.4 791.5,337.8 785.6,330.2 779.6,322.5 773.6,314.6 767.5,306.7 761.4,298.6 755.3,290.4 749.1,282.2 742.9,273.8 736.6,265.2 730.2,256.6 723.9,247.8 717.4,238.9 711,229.9 704.4,220.7 697.9,211.4 691.2,201.9 684.5,192.3 677.8,182.5 671,172.5 664.1,162.4 657.2,152.1 650.2,141.6 643.2,130.9 636.1,120.1 628.9,109 621.7,97.7 614.4,86.2 607,74.5"/>
<polyline points="1460.5,924.4 1456.9,921.5 1453.4,918.7 1449.9,915.8 1446.3,913 1442.8,910.1 1439.2,907.2 1435.6,904.3 1432,901.4 1428.4,898.4 1424.8,895.5 1421.2,892.5 1417.6,889.5 1413.9,886.5 1410.3,883.5 1406.6,880.5 1402.9,877.4 1399.3,874.4 1395.6,871.3 1391.9,868.2 1388.1,865.1 1384.4,862 1380.7,858.8 1376.9,855.7 1373.1,852.5 1369.4,849.3 1365.6,846.1 1361.8,842.9 1357.9,839.6 1354.1,836.3 1350.3,833.1 1346.4,829.8 1342.5,826.5 1338.7,823.1 1334.8,819.8 1330.9,816.4 1326.9,813 1323,809.6 1319.1,806.1 1315.1,802.7 1311.1,799.2 1307.2,795.7 1303.2,792.2 1299.1,788.7 1295.1,785.1 1291.1,781.5 1287,777.9 1282.9,774.3 1278.8,770.7 1274.7,767 1270.6,763.3 1266.5,759.6 1262.4,755.9 1258.2,752.1 1254,748.3 1249.8,744.5 1245.6,740.7 1241.4,736.8 1237.1,732.9 1232.9,729 1228.6,725.1 1224.3,721.1 1220,717.1 1215.7,713.1 1211.4,709.1 1207,705 1202.6,700.9 1198.2,696.8 1193.8,692.6 1189.4,688.5 1184.9,684.2 1180.5,680 1176,675.7 1171.5,671.4 1167,667.1 1162.4,662.7 1157.9,658.3 1153.3,653.9 1148.7,649.4 1144.1,644.9 1139.4,640.4 1134.8,635.8 1130.1,631.2 1125.4,626.5 1120.7,621.8 1115.9,617.1 1111.2,612.4 1106.4,607.6 1101.6,602.7 1096.7,597.9 1091.9,593 1087,588 1082.1,583 1077.2,578 1072.2,572.9 1067.2,567.7 1062.2,562.6 1057.2,557.4 1052.2,552.1 1047.1,546.8 1042,541.4 1036.9,536 1031.7,530.6 1026.5,525 1021.3,519.5 1016.1,513.9 1010.8,508.2 1005.5,502.5 1000.2,496.7 994.9,490.9 989.5,485 984.1,479 978.7,473 973.2,466.9 967.7,460.8 962.2,454.6 956.6,448.3 951,442 945.4,435.6 939.7,429.1 934,422.6 928.3,416 922.5,409.3 916.7,402.5 910.9,395.7 905,388.7 899.1,381.7 893.1,374.6 887.1,367.5 881.1,360.2 875,352.8 868.9,345.4 862.8,337.8 856.6,330.2 850.3,322.5 844,314.6 837.7,306.7 831.3,298.6 824.9,290.4 818.4,282.2 811.9,273.8 805.4,265.2 798.7,256.6 792.1,247.8 785.4,238.9 778.6,229.9 771.7,220.7 764.9,211.4 757.9,201.9 750.9,192.3 743.9,182.5 736.7,172.5 729.6,162.4 722.3,152.1 715,141.6 707.6,130.9 700.2,120.1 692.7,109 685.1,97.7 677.4,86.2 669.7,74.5"/>
<polyline points="1555,924.4 1551.4,921.5 1547.7,918.7 1544,915.8 1540.4,913 1536.7,910.1 1533,907.2 1529.3,904.3 1525.6,901.4 1521.8,898.4 1518.1,895.5 1514.3,892.5 1510.6,889.5 1506.8,886.5 1503,883.5 1499.2,880.5 1495.4,877.4 1491.6,874.4 1487.7,871.3 1483.9,868.2 1480,865.1 1476.2,862 1472.3,858.8 1468.4,855.7 1464.5,852.5 1460.5,849.3 1456.6,846.1 1452.7,842.9 1448.7,839.6 1444.7,836.3 1440.7,833.1 1436.8,829.8 1432.7,826.5 1428.7,823.1 1424.7,819.8 1420.6,816.4 1416.6,813 1412.5,809.6 1408.4,806.1 1404.3,802.7 1400.2,799.2 1396,795.7 1391.9,792.2 1387.7,788.7 1383.5,785.1 1379.3,781.5 1375.1,777.9 1370.9,774.3 1366.6,770.7 1362.4,767 1358.1,763.3 1353.8,759.6 1349.5,755.9 1345.2,752.1 1340.9,748.3 1336.5,744.5 1332.1,740.7 1327.8,736.8 1323.4,732.9 1318.9,729 1314.5,725.1 1310,721.1 1305.6,717.1 1301.1,713.1 1296.6,709.1 1292.1,705 1287.5,700.9 1283,696.8 1278.4,692.6 1273.8,688.5 1269.2,684.2 1264.5,680 1259.9,675.7 1255.2,671.4 1250.5,667.1 1245.8,662.7 1241,658.3 1236.3,653.9 1231.5,649.4 1226.7,644.9 1221.9,640.4 1217,635.8 1212.2,631.2 1207.3,626.5 1202.4,621.8 1197.4,617.1 1192.5,612.4 1187.5,607.6 1182.5,602.7 1177.5,597.9 1172.4,593 1167.4,588 1162.3,583 1157.2,578 1152,572.9 1146.8,567.7 1141.6,562.6 1136.4,557.4 1131.2,552.1 1125.9,546.8 1120.6,541.4 1115.3,536 1109.9,530.6 1104.5,525 1099.1,519.5 1093.7,513.9 1088.2,508.2 1082.7,502.5 1077.1,496.7 1071.6,490.9 1066,485 1060.4,479 1054.7,473 1049,466.9 1043.3,460.8 1037.5,454.6 1031.7,448.3 1025.9,442 1020,435.6 1014.2,429.1 1008.2,422.6 1002.3,416 996.2,409.3 990.2,402.5 984.1,395.7 978,388.7 971.8,381.7 965.6,374.6 959.4,367.5 953.1,360.2 946.8,352.8 940.4,345.4 934,337.8 927.5,330.2 921,322.5 914.5,314.6 907.9,306.7 901.2,298.6 894.5,290.4 887.8,282.2 881,273.8 874.1,265.2 867.2,256.6 860.3,247.8 853.3,238.9 846.2,229.9 839.1,220.7 831.9,211.4 824.6,201.9 817.3,192.3 810,182.5 802.5,172.5 795,162.4 787.4,152.1 779.8,141.6 772.1,130.9 764.3,120.1 756.5,109 748.5,97.7 740.5,86.2 732.4,74.5"/>
<polyline points="1649.6,924.4 1645.8,921.5 1642,918.7 1638.2,915.8 1634.4,913 1630.6,910.1 1626.8,907.2 1622.9,904.3 1619.1,901.4 1615.2,898.4 1611.3,895.5 1607.4,892.5 1603.5,889.5 1599.6,886.5 1595.7,883.5 1591.8,880.5 1587.8,877.4 1583.9,874.4 1579.9,871.3 1575.9,868.2 1571.9,865.1 1567.9,862 1563.9,858.8 1559.8,855.7 1555.8,852.5 1551.7,849.3 1547.7,846.1 1543.6,842.9 1539.5,839.6 1535.4,836.3 1531.2,833.1 1527.1,829.8 1522.9,826.5 1518.8,823.1 1514.6,819.8 1510.4,816.4 1506.2,813 1501.9,809.6 1497.7,806.1 1493.4,802.7 1489.2,799.2 1484.9,795.7 1480.6,792.2 1476.3,788.7 1471.9,785.1 1467.6,781.5 1463.2,777.9 1458.8,774.3 1454.4,770.7 1450,767 1445.6,763.3 1441.2,759.6 1436.7,755.9 1432.2,752.1 1427.7,748.3 1423.2,744.5 1418.7,740.7 1414.1,736.8 1409.6,732.9 1405,729 1400.4,725.1 1395.8,721.1 1391.1,717.1 1386.5,713.1 1381.8,709.1 1377.1,705 1372.4,700.9 1367.7,696.8 1362.9,692.6 1358.1,688.5 1353.4,684.2 1348.5,680 1343.7,675.7 1338.9,671.4 1334,667.1 1329.1,662.7 1324.2,658.3 1319.3,653.9 1314.3,649.4 1309.3,644.9 1304.3,640.4 1299.3,635.8 1294.2,631.2 1289.2,626.5 1284.1,621.8 1279,617.1 1273.8,612.4 1268.7,607.6 1263.5,602.7 1258.3,597.9 1253,593 1247.8,588 1242.5,583 1237.1,578 1231.8,572.9 1226.4,567.7 1221,562.6 1215.6,557.4 1210.2,552.1 1204.7,546.8 1199.2,541.4 1193.6,536 1188.1,530.6 1182.5,525 1176.9,519.5 1171.2,513.9 1165.5,508.2 1159.8,502.5 1154.1,496.7 1148.3,490.9 1142.5,485 1136.6,479 1130.7,473 1124.8,466.9 1118.9,460.8 1112.9,454.6 1106.9,448.3 1100.8,442 1094.7,435.6 1088.6,429.1 1082.4,422.6 1076.2,416 1070,409.3 1063.7,402.5 1057.4,395.7 1051,388.7 1044.6,381.7 1038.1,374.6 1031.7,367.5 1025.1,360.2 1018.5,352.8 1011.9,345.4 1005.2,337.8 998.5,330.2 991.7,322.5 984.9,314.6 978,306.7 971.1,298.6 964.2,290.4 957.1,282.2 950.1,273.8 942.9,265.2 935.7,256.6 928.5,247.8 921.2,238.9 913.8,229.9 906.4,220.7 898.9,211.4 891.3,201.9 883.7,192.3 876,182.5 868.3,172.5 860.5,162.4 852.6,152.1 844.6,141.6 836.6,130.9 828.4,120.1 820.2,109 812,97.7 803.6,86.2 795.2,74.5"/>
</g>
<g clip-path="url(#fr)" stroke="#80d000" stroke-width="0.9" fill="none">
<polyline points="479.7,924.4 478.6,918.7 477.4,913 476.2,907.2 474.9,901.4 473.7,895.5 472.4,889.5 471,883.5 469.6,877.4 468.2,871.3 466.8,865.1 465.3,858.8 463.7,852.5 462.2,846.1 460.6,839.6 458.9,833.1 457.3,826.5 455.5,819.8 453.7,813 451.9,806.1 450,799.2 448.1,792.2 446.1,785.1 444.1,777.9 442,770.7 439.9,763.3 437.6,755.9 435.4,748.3 433,740.7 430.6,732.9 428.1,725.1 425.5,717.1 422.9,709.1 420.2,700.9 417.4,692.6 414.5,684.2 411.6,675.7 408.6,667.1 405.6,658.3 402.4,649.4 399.2,640.4 395.8,631.2 392.3,621.8 388.7,612.4 385,602.7 381.2,593 377.2,583 373.1,572.9 368.9,562.6 364.5,552.1 360,541.4 355.4,530.6 350.6,519.5 345.6,508.2 340.5,496.7 335.2,485 329.6,473 323.9,460.8 317.9,448.3 311.8,435.6 305.5,422.6 299.1,409.3 292.4,395.7 285.6,381.7 278.7,367.5 271.5,352.8 264.8,337.8 257.9,322.5 250.8,306.7 243.6,290.4 236.2,273.8 228.7,256.6 221,238.9 213.2,220.7 205.2,201.9 197.1,182.5 188.5,162.4 179.7,141.6 170.8,120.1 161.7,97.7 152.5,74.5"/>
<polyline points="515.7,924.4 514.8,918.7 513.9,913 512.9,907.2 512,901.4 511,895.5 509.9,889.5 508.9,883.5 507.8,877.4 506.7,871.3 505.6,865.1 504.4,858.8 503.2,852.5 502,846.1 500.7,839.6 499.4,833.1 498.1,826.5 496.7,819.8 495.3,813 493.9,806.1 492.4,799.2 490.9,792.2 489.3,785.1 487.7,777.9 486.1,770.7 484.4,763.3 482.6,755.9 480.8,748.3 478.9,740.7 477,732.9 475,725.1 472.9,717.1 470.8,709.1 468.6,700.9 466.4,692.6 464,684.2 461.8,675.7 459.4,667.1 457,658.3 454.4,649.4 451.8,640.4 449.1,631.2 446.3,621.8 443.3,612.4 440.3,602.7 437.1,593 433.9,583 430.5,572.9 426.9,562.6 423.3,552.1 419.4,541.4 415.5,530.6 411.3,519.5 407.1,508.2 402.6,496.7 398,485 393,473 387.8,460.8 382.4,448.3 376.9,435.6 371.1,422.6 365.1,409.3 358.9,395.7 352.5,381.7 345.9,367.5 339,352.8 332.2,337.8 325.3,322.5 318.1,306.7 310.7,290.4 303,273.8 295.2,256.6 287.1,238.9 278.8,220.7 270.3,201.9 261.6,182.5 253.1,162.4 244.3,141.6 235.4,120.1 226.2,97.7 216.9,74.5"/>
<polyline points="551.8,924.4 551.1,918.7 550.4,913 549.7,907.2 549,901.4 548.3,895.5 547.6,889.5 546.8,883.5 546,877.4 545.3,871.3 544.5,865.1 543.6,858.8 542.8,852.5 541.9,846.1 541,839.6 540.1,833.1 539.2,826.5 538.2,819.8 537.2,813 536.2,806.1 535.1,799.2 534.1,792.2 532.9,785.1 531.8,777.9 530.6,770.7 529.4,763.3 528.1,755.9 526.8,748.3 525.4,740.7 524,732.9 522.6,725.1 521.1,717.1 519.6,709.1 518,700.9 516.3,692.6 514.6,684.2 512.8,675.7 511,667.1 509.1,658.3 507.2,649.4 505.1,640.4 503,631.2 500.8,621.8 498.5,612.4 496.2,602.7 493.7,593 491.1,583 488.4,572.9 485.5,562.6 482.6,552.1 479.5,541.4 476.3,530.6 473,519.5 469.4,508.2 465.8,496.7 461.9,485 457.9,473 453.8,460.8 449.4,448.3 444.8,435.6 440,422.6 435,409.3 429.7,395.7 424.2,381.7 418.5,367.5 412.5,352.8 406.4,337.8 400.1,322.5 393.5,306.7 386.6,290.4 379.5,273.8 372,256.6 364.2,238.9 356.2,220.7 347.8,201.9 339.2,182.5 330.4,162.4 321.3,141.6 312,120.1 302.4,97.7 292.5,74.5"/>
<polyline points="587.9,924.4 587.5,918.7 587,913 586.6,907.2 586.1,901.4 585.6,895.5 585.1,889.5 584.7,883.5 584.2,877.4 583.7,871.3 583.2,865.1 582.7,858.8 582.2,852.5 581.7,846.1 581.1,839.6 580.5,833.1 580,826.5 579.4,819.8 578.7,813 578.1,806.1 577.4,799.2 576.7,792.2 576,785.1 575.3,777.9 574.5,770.7 573.8,763.3 573,755.9 572.1,748.3 571.3,740.7 570.4,732.9 569.4,725.1 568.5,717.1 567.5,709.1 566.4,700.9 565.3,692.6 564.2,684.2 563.1,675.7 561.9,667.1 560.6,658.3 559.3,649.4 558,640.4 556.5,631.2 555.1,621.8 553.5,612.4 551.9,602.7 550.2,593 548.4,583 546.6,572.9 544.6,562.6 542.6,552.1 540.5,541.4 538.2,530.6 535.9,519.5 533.4,508.2 530.8,496.7 528,485 524.9,473 521.7,460.8 518.3,448.3 514.6,435.6 510.8,422.6 506.8,409.3 502.6,395.7 498.1,381.7 493.4,367.5 488.4,352.8 483.2,337.8 477.7,322.5 471.9,306.7 465.7,290.4 459.2,273.8 452.3,256.6 445,238.9 437.4,220.7 429.3,201.9 420.8,182.5 412.7,162.4 404.2,141.6 395.2,120.1 385.9,97.7 376.2,74.5"/>
<polyline points="624.2,924.4 624,918.7 623.7,913 623.4,907.2 623.2,901.4 622.9,895.5 622.6,889.5 622.4,883.5 622.1,877.4 621.8,871.3 621.5,865.1 621.2,858.8 620.9,852.5 620.6,846.1 620.3,839.6 619.9,833.1 619.6,826.5 619.2,819.8 618.9,813 618.5,806.1 618.1,799.2 617.7,792.2 617.3,785.1 616.8,777.9 616.4,770.7 615.9,763.3 615.4,755.9 614.9,748.3 614.4,740.7 613.9,732.9 613.3,725.1 612.7,717.1 612.1,709.1 611.5,700.9 610.8,692.6 610.1,684.2 609.6,675.7 609,667.1 608.4,658.3 607.8,649.4 607.2,640.4 606.5,631.2 605.7,621.8 605,612.4 604.1,602.7 603.3,593 602.3,583 601.4,572.9 600.4,562.6 599.3,552.1 598.1,541.4 596.9,530.6 595.6,519.5 594.2,508.2 592.7,496.7 591.2,485 589.1,473 586.9,460.8 584.6,448.3 582.2,435.6 579.6,422.6 576.9,409.3 573.9,395.7 570.8,381.7 567.5,367.5 564,352.8 560,337.8 555.8,322.5 551.2,306.7 546.4,290.4 541.2,273.8 535.7,256.6 529.8,238.9 523.4,220.7 516.7,201.9 509.4,182.5 502.2,162.4 494.5,141.6 486.2,120.1 477.4,97.7 467.9,74.5"/>
<polyline points="660.7,924.4 660.6,918.7 660.5,913 660.4,907.2 660.3,901.4 660.2,895.5 660.1,889.5 660,883.5 659.8,877.4 659.7,871.3 659.6,865.1 659.5,858.8 659.3,852.5 659.2,846.1 659.1,839.6 658.9,833.1 658.8,826.5 658.6,819.8 658.5,813 658.3,806.1 658.1,799.2 657.9,792.2 657.7,785.1 657.5,777.9 657.3,770.7 657.1,763.3 656.9,755.9 656.7,748.3 656.4,740.7 656.2,732.9 655.9,725.1 655.6,717.1 655.4,709.1 655.1,700.9 654.7,692.6 654.4,684.2 654.3,675.7 654.1,667.1 653.9,658.3 653.8,649.4 653.6,640.4 653.3,631.2 653.1,621.8 652.8,612.4 652.5,602.7 652.2,593 651.9,583 651.5,572.9 651.1,562.6 650.7,552.1 650.2,541.4 649.7,530.6 649.1,519.5 648.5,508.2 647.9,496.7 647.2,485 646.1,473 645.1,460.8 643.9,448.3 642.7,435.6 641.3,422.6 639.9,409.3 638.3,395.7 636.7,381.7 634.9,367.5 633,352.8 630.6,337.8 628.1,322.5 625.4,306.7 622.5,290.4 619.4,273.8 616,256.6 612.3,238.9 608.2,220.7 603.9,201.9 599.1,182.5 593.9,162.4 588.2,141.6 582,120.1 575.1,97.7 567.6,74.5"/>
<polyline points="697.3,924.4 697.3,918.7 697.4,913 697.4,907.2 697.4,901.4 697.5,895.5 697.5,889.5 697.5,883.5 697.5,877.4 697.6,871.3 697.6,865.1 697.6,858.8 697.6,852.5 697.6,846.1 697.6,839.6 697.7,833.1 697.7,826.5 697.7,819.8 697.7,813 697.7,806.1 697.7,799.2 697.7,792.2 697.7,785.1 697.7,777.9 697.7,770.7 697.7,763.3 697.7,755.9 697.7,748.3 697.7,740.7 697.7,732.9 697.7,725.1 697.7,717.1 697.6,709.1 697.6,700.9 697.6,692.6 697.5,684.2 697.7,675.7 697.9,667.1 698,658.3 698.1,649.4 698.3,640.4 698.4,631.2 698.5,621.8 698.7,612.4 698.8,602.7 698.9,593 699,583 699,572.9 699.1,562.6 699.2,552.1 699.2,541.4 699.2,530.6 699.2,519.5 699.2,508.2 699.2,496.7 699.1,485 699.1,473 699,460.8 698.8,448.3 698.6,435.6 698.4,422.6 698.2,409.3 697.9,395.7 697.5,381.7 697.1,367.5 696.6,352.8 695.9,337.8 695.1,322.5 694.2,306.7 693.2,290.4 692.1,273.8 690.8,256.6 689.4,238.9 687.8,220.7 686,201.9 684,182.5 681.2,162.4 678.2,141.6 674.8,120.1 671,97.7 666.7,74.5"/>
<polyline points="239.6,895.5 243.4,883.5 247.3,871.3 251.3,858.8 255.3,846.1 259.5,833.1 263.7,819.8 268.1,806.1 272.6,792.2 277.2,777.9 281.9,763.3 286.7,748.3 291.6,732.9 296.8,717.1 302,700.9 307.4,684.2 313,667.1 318.7,649.4 324.7,631.2 330.8,612.4 337.1,593 343.7,572.9 350.5,552.1 357.6,530.6 365,508.2 372.6,485 380.6,460.8 389,435.6 397.7,409.3 406.9,381.7 416.6,352.8" stroke-dasharray="5.5 6.7"/>
<polyline points="319.2,895.5 322.8,883.5 326.5,871.3 330.3,858.8 334.2,846.1 338.2,833.1 342.2,819.8 346.4,806.1 350.7,792.2 355.1,777.9 359.5,763.3 364.2,748.3 368.9,732.9 373.8,717.1 378.8,700.9 384,684.2 389.3,667.1 394.9,649.4 400.5,631.2 406.4,612.4 412.5,593 418.8,572.9 425.4,552.1 432.2,530.6 439.2,508.2 446.6,485 454.3,460.8 462.3,435.6 470.7,409.3 479.6,381.7 488.9,352.8" stroke-dasharray="5.5 6.7"/>
<polyline points="368.5,895.5 372,883.5 375.6,871.3 379.3,858.8 383.1,846.1 386.9,833.1 390.9,819.8 394.9,806.1 399.1,792.2 403.3,777.9 407.7,763.3 412.2,748.3 416.8,732.9 421.5,717.1 426.4,700.9 431.4,684.2 436.6,667.1 442,649.4 447.5,631.2 453.2,612.4 459.2,593 465.3,572.9 471.7,552.1 478.3,530.6 485.2,508.2 492.3,485 499.8,460.8 507.7,435.6 515.9,409.3 524.5,381.7 533.5,352.8" stroke-dasharray="5.5 6.7"/>
<polyline points="433.8,895.5 437.2,883.5 440.7,871.3 444.2,858.8 447.8,846.1 451.5,833.1 455.2,819.8 459.1,806.1 463.1,792.2 467.2,777.9 471.4,763.3 475.7,748.3 480.1,732.9 484.6,717.1 489.3,700.9 494.2,684.2 499.1,667.1 504.3,649.4 509.6,631.2 515.1,612.4 520.8,593 526.7,572.9 532.8,552.1 539.2,530.6 545.8,508.2 552.8,485 560,460.8 567.5,435.6 575.4,409.3 583.7,381.7 592.5,352.8" stroke-dasharray="5.5 6.7"/>
<polyline points="497.2,895.5 500.4,883.5 503.7,871.3 507.1,858.8 510.5,846.1 514,833.1 517.7,819.8 521.4,806.1 525.2,792.2 529.1,777.9 533.1,763.3 537.2,748.3 541.4,732.9 545.8,717.1 550.3,700.9 554.9,684.2 559.7,667.1 564.6,649.4 569.7,631.2 575,612.4 580.5,593 586.2,572.9 592.1,552.1 598.2,530.6 604.6,508.2 611.2,485 618.2,460.8 625.4,435.6 633,409.3 641.1,381.7 649.5,352.8" stroke-dasharray="5.5 6.7"/>
<polyline points="554.5,895.5 557.6,883.5 560.7,871.3 563.9,858.8 567.2,846.1 570.6,833.1 574,819.8 577.6,806.1 581.2,792.2 585,777.9 588.8,763.3 592.8,748.3 596.8,732.9 601,717.1 605.3,700.9 609.8,684.2 614.4,667.1 619.1,649.4 624,631.2 629.1,612.4 634.4,593 639.8,572.9 645.5,552.1 651.4,530.6 657.5,508.2 663.9,485 670.6,460.8 677.6,435.6 685,409.3 692.7,381.7 700.9,352.8" stroke-dasharray="5.5 6.7"/>
<polyline points="630,895.5 632.9,883.5 635.9,871.3 638.9,858.8 642,846.1 645.2,833.1 648.4,819.8 651.8,806.1 655.2,792.2 658.7,777.9 662.3,763.3 666,748.3 669.9,732.9 673.8,717.1 677.9,700.9 682.1,684.2 686.4,667.1 690.9,649.4 695.5,631.2 700.3,612.4 705.3,593 710.5,572.9 715.9,552.1 721.4,530.6 727.3,508.2 733.3,485 739.7,460.8 746.4,435.6 753.3,409.3 760.7,381.7 768.4,352.8" stroke-dasharray="5.5 6.7"/>
</g>
<g transform="translate(80.2 176.3) rotate(60)" stroke="#ffa500" stroke-width="1" fill="none"><polyline points="-6.6,-3.1 -4.7,-6 -4.7,6"/><polyline points="-4.2,-6 -4.2,6"/><polyline points="-6.6,6 -2.3,6"/><polyline points="4.2,-6 2.8,-5.4 1.9,-3.7 1.4,-0.9 1.4,0.9 1.9,3.7 2.8,5.4 4.2,6 5.2,6 6.6,5.4 7.5,3.7 8,0.9 8,-0.9 7.5,-3.7 6.6,-5.4 5.2,-6 4.2,-6"/></g>
<g transform="translate(80.5 343) rotate(60)" stroke="#ffa500" stroke-width="1" fill="none"><polyline points="-0.5,-6 -1.9,-5.4 -2.8,-3.7 -3.3,-0.9 -3.3,0.9 -2.8,3.7 -1.9,5.4 -0.5,6 0.5,6 1.9,5.4 2.8,3.7 3.3,0.9 3.3,-0.9 2.8,-3.7 1.9,-5.4 0.5,-6 -0.5,-6"/></g>
<g transform="translate(80 506) rotate(58)" stroke="#ffa500" stroke-width="1" fill="none"><polyline points="-13.6,0.3 -5.6,0.3"/><polyline points="-1.9,-3.1 0,-6 0,6"/><polyline points="0.5,-6 0.5,6"/><polyline points="-1.9,6 2.3,6"/><polyline points="8.9,-6 7.5,-5.4 6.6,-3.7 6.1,-0.9 6.1,0.9 6.6,3.7 7.5,5.4 8.9,6 9.8,6 11.2,5.4 12.2,3.7 12.7,0.9 12.7,-0.9 12.2,-3.7 11.2,-5.4 9.8,-6 8.9,-6"/></g>
<g transform="translate(78.4 663.6) rotate(58)" stroke="#ffa500" stroke-width="1" fill="none"><polyline points="-13.6,0.3 -5.6,0.3"/><polyline points="-2.8,-3.1 -2.8,-3.7 -2.3,-4.9 -1.9,-5.4 -0.9,-6 0.9,-6 1.9,-5.4 2.3,-4.9 2.8,-3.7 2.8,-2.6 2.3,-1.4 1.4,0.3 -3.3,6 3.3,6"/><polyline points="8.9,-6 7.5,-5.4 6.6,-3.7 6.1,-0.9 6.1,0.9 6.6,3.7 7.5,5.4 8.9,6 9.8,6 11.2,5.4 12.2,3.7 12.7,0.9 12.7,-0.9 12.2,-3.7 11.2,-5.4 9.8,-6 8.9,-6"/></g>
<g transform="translate(77 823.5) rotate(58)" stroke="#ffa500" stroke-width="1" fill="none"><polyline points="-13.6,0.3 -5.6,0.3"/><polyline points="-2.3,-6 2.8,-6 0,-1.4 1.4,-1.4 2.3,-0.9 2.8,-0.3 3.3,1.4 3.3,2.6 2.8,4.3 1.9,5.4 0.5,6 -0.9,6 -2.3,5.4 -2.8,4.9 -3.3,3.7"/><polyline points="8.9,-6 7.5,-5.4 6.6,-3.7 6.1,-0.9 6.1,0.9 6.6,3.7 7.5,5.4 8.9,6 9.8,6 11.2,5.4 12.2,3.7 12.7,0.9 12.7,-0.9 12.2,-3.7 11.2,-5.4 9.8,-6 8.9,-6"/></g>
<g transform="translate(731.9 243.1) rotate(-45)" stroke="#ffa500" stroke-width="1" fill="none"><polyline points="-0.6,-7.8 -2.5,-7 -3.8,-4.8 -4.4,-1.1 -4.4,1.1 -3.8,4.8 -2.5,7 -0.6,7.8 0.6,7.8 2.5,7 3.8,4.8 4.4,1.1 4.4,-1.1 3.8,-4.8 2.5,-7 0.6,-7.8 -0.6,-7.8"/></g>
<g transform="translate(756 379.7) rotate(-46)" stroke="#ffa500" stroke-width="1" fill="none"><polyline points="-9.3,-4.1 -6.6,-7.8 -6.6,7.8"/><polyline points="-6,-7.8 -6,7.8"/><polyline points="-9.3,7.8 -3.3,7.8"/><polyline points="6,-7.8 4,-7 2.7,-4.8 2,-1.1 2,1.1 2.7,4.8 4,7 6,7.8 7.3,7.8 9.3,7 10.6,4.8 11.3,1.1 11.3,-1.1 10.6,-4.8 9.3,-7 7.3,-7.8 6,-7.8"/></g>
<g transform="translate(804.3 468.5) rotate(-47)" stroke="#ffa500" stroke-width="1" fill="none"><polyline points="-10.6,-4.1 -10.6,-4.8 -10,-6.3 -9.3,-7 -8,-7.8 -5.3,-7.8 -4,-7 -3.3,-6.3 -2.7,-4.8 -2.7,-3.3 -3.3,-1.8 -4.7,0.4 -11.3,7.8 -2,7.8"/><polyline points="6,-7.8 4,-7 2.7,-4.8 2,-1.1 2,1.1 2.7,4.8 4,7 6,7.8 7.3,7.8 9.3,7 10.6,4.8 11.3,1.1 11.3,-1.1 10.6,-4.8 9.3,-7 7.3,-7.8 6,-7.8"/></g>
<g transform="translate(853.2 555.8) rotate(-45)" stroke="#ffa500" stroke-width="1" fill="none"><polyline points="-10,-7.8 -2.7,-7.8 -6.6,-1.8 -4.7,-1.8 -3.3,-1.1 -2.7,-0.4 -2,1.8 -2,3.3 -2.7,5.5 -4,7 -6,7.8 -8,7.8 -10,7 -10.6,6.3 -11.3,4.8"/><polyline points="6,-7.8 4,-7 2.7,-4.8 2,-1.1 2,1.1 2.7,4.8 4,7 6,7.8 7.3,7.8 9.3,7 10.6,4.8 11.3,1.1 11.3,-1.1 10.6,-4.8 9.3,-7 7.3,-7.8 6,-7.8"/></g>
<g transform="translate(236 909.4) rotate(-65)" stroke="#80d000" stroke-width="1" fill="none"><polyline points="-1.8,-3.1 0,-6 0,6"/><polyline points="0.5,-6 0.5,6"/><polyline points="-1.8,6 2.3,6"/></g>
<g transform="translate(314.5 909.4) rotate(-65)" stroke="#80d000" stroke-width="1" fill="none"><polyline points="-2.7,-3.1 -2.7,-3.7 -2.3,-4.9 -1.8,-5.4 -0.9,-6 0.9,-6 1.8,-5.4 2.3,-4.9 2.7,-3.7 2.7,-2.6 2.3,-1.4 1.4,0.3 -3.2,6 3.2,6"/></g>
<g transform="translate(363.5 909.4) rotate(-65)" stroke="#80d000" stroke-width="1" fill="none"><polyline points="-2.3,-6 2.7,-6 0,-1.4 1.4,-1.4 2.3,-0.9 2.7,-0.3 3.2,1.4 3.2,2.6 2.7,4.3 1.8,5.4 0.5,6 -0.9,6 -2.3,5.4 -2.7,4.9 -3.2,3.7"/></g>
<g transform="translate(429 909.4) rotate(-65)" stroke="#80d000" stroke-width="1" fill="none"><polyline points="2.3,-6 -2.3,-6 -2.7,-0.9 -2.3,-1.4 -0.9,-2 0.5,-2 1.8,-1.4 2.7,-0.3 3.2,1.4 3.2,2.6 2.7,4.3 1.8,5.4 0.5,6 -0.9,6 -2.3,5.4 -2.7,4.9 -3.2,3.7"/></g>
<g transform="translate(492.5 909.4) rotate(-65)" stroke="#80d000" stroke-width="1" fill="none"><polyline points="-0.9,-6 -2.3,-5.4 -2.7,-4.3 -2.7,-3.1 -2.3,-2 -1.4,-1.4 0.5,-0.9 1.8,-0.3 2.7,0.9 3.2,2 3.2,3.7 2.7,4.9 2.3,5.4 0.9,6 -0.9,6 -2.3,5.4 -2.7,4.9 -3.2,3.7 -3.2,2 -2.7,0.9 -1.8,-0.3 -0.5,-0.9 1.4,-1.4 2.3,-2 2.7,-3.1 2.7,-4.3 2.3,-5.4 0.9,-6 -0.9,-6"/></g>
<g transform="translate(550.4 909.4) rotate(-65)" stroke="#80d000" stroke-width="1" fill="none"><polyline points="-6.4,-3.1 -4.6,-6 -4.6,6"/><polyline points="-4.1,-6 -4.1,6"/><polyline points="-6.4,6 -2.3,6"/><polyline points="1.8,-3.1 1.8,-3.7 2.3,-4.9 2.7,-5.4 3.7,-6 5.5,-6 6.4,-5.4 6.9,-4.9 7.3,-3.7 7.3,-2.6 6.9,-1.4 5.9,0.3 1.4,6 7.8,6"/></g>
<g transform="translate(625.7 909.4) rotate(-65)" stroke="#80d000" stroke-width="1" fill="none"><polyline points="-7.3,-3.1 -7.3,-3.7 -6.9,-4.9 -6.4,-5.4 -5.5,-6 -3.7,-6 -2.7,-5.4 -2.3,-4.9 -1.8,-3.7 -1.8,-2.6 -2.3,-1.4 -3.2,0.3 -7.8,6 -1.4,6"/><polyline points="4.1,-6 2.7,-5.4 1.8,-3.7 1.4,-0.9 1.4,0.9 1.8,3.7 2.7,5.4 4.1,6 5,6 6.4,5.4 7.3,3.7 7.8,0.9 7.8,-0.9 7.3,-3.7 6.4,-5.4 5,-6 4.1,-6"/></g>
<g stroke="#000" stroke-width="1" fill="none">
<polyline points="69.5,924.4 69.5,74.5 720.5,74.5 720.5,353.3"/>
<polyline points="867.5,615.5 867.5,924.4 69,924.4"/>
<line x1="720.5" y1="352.8" x2="867.5" y2="616" stroke-width="0.9"/>
<line x1="104.5" y1="924.4" x2="104.5" y2="934.9"/>
<line x1="198.5" y1="924.4" x2="198.5" y2="934.9"/>
<line x1="291.5" y1="924.4" x2="291.5" y2="934.9"/>
<line x1="384.5" y1="924.4" x2="384.5" y2="934.9"/>
<line x1="477.5" y1="924.4" x2="477.5" y2="934.9"/>
<line x1="571.5" y1="924.4" x2="571.5" y2="934.9"/>
<line x1="664.5" y1="924.4" x2="664.5" y2="934.9"/>
<line x1="757.5" y1="924.4" x2="757.5" y2="934.9"/>
<line x1="815.5" y1="74" x2="815.5" y2="903"/>
</g>
<line x1="70" y1="109" x2="70" y2="901" stroke="#00b000" stroke-width="2"/>
<g stroke="#000" fill="none">
<line x1="919" y1="74" x2="919" y2="925" stroke-width="2"/>
<line x1="919" y1="129.5" x2="930" y2="129.5" stroke-width="1"/>
<line x1="919" y1="184.5" x2="930" y2="184.5" stroke-width="1"/>
<line x1="919" y1="237.5" x2="930" y2="237.5" stroke-width="1"/>
<line x1="919" y1="290.5" x2="930" y2="290.5" stroke-width="1"/>
<line x1="919" y1="341.5" x2="930" y2="341.5" stroke-width="1"/>
<line x1="919" y1="392.5" x2="930" y2="392.5" stroke-width="1"/>
<line x1="919" y1="442.5" x2="930" y2="442.5" stroke-width="1"/>
<line x1="919" y1="491.5" x2="930" y2="491.5" stroke-width="1"/>
<line x1="919" y1="540.5" x2="930" y2="540.5" stroke-width="1"/>
<line x1="919" y1="588.5" x2="930" y2="588.5" stroke-width="1"/>
<line x1="919" y1="635.5" x2="930" y2="635.5" stroke-width="1"/>
<line x1="919" y1="681.5" x2="930" y2="681.5" stroke-width="1"/>
<line x1="919" y1="727.5" x2="930" y2="727.5" stroke-width="1"/>
<line x1="919" y1="771.5" x2="930" y2="771.5" stroke-width="1"/>
<line x1="919" y1="816.5" x2="930" y2="816.5" stroke-width="1"/>
<line x1="919" y1="860.5" x2="930" y2="860.5" stroke-width="1"/>
<line x1="919" y1="902.5" x2="930" y2="902.5" stroke-width="1"/>
</g>
<g stroke="#000" stroke-width="0.85" fill="none">
<line x1="815.5" y1="110.5" x2="775.2" y2="112.3"/><polygon points="775.2,112.3 774.8,101.5 780.8,112" fill="#000"/><line x1="783.1" y1="111.9" x2="776.9" y2="101.4"/><line x1="786.6" y1="111.8" x2="780.4" y2="101.2"/><line x1="790.1" y1="111.6" x2="783.9" y2="101.1"/><line x1="793.6" y1="111.5" x2="787.4" y2="100.9"/><line x1="797.1" y1="111.3" x2="793.9" y2="105.8"/>
<line x1="815.5" y1="155" x2="775.5" y2="159.9"/><polygon points="775.5,159.9 774.2,149.2 781.1,159.2" fill="#000"/><line x1="783.3" y1="158.9" x2="776.3" y2="148.9"/><line x1="786.8" y1="158.5" x2="779.7" y2="148.5"/><line x1="790.3" y1="158.1" x2="783.2" y2="148.1"/><line x1="793.8" y1="157.7" x2="790.1" y2="152.5"/>
<line x1="815.5" y1="196" x2="776.3" y2="205.4"/><polygon points="776.3,205.4 773.8,194.9 781.8,204.1" fill="#000"/><line x1="784" y1="203.6" x2="775.8" y2="194.4"/><line x1="787.4" y1="202.7" x2="779.2" y2="193.6"/><line x1="790.8" y1="201.9" x2="786.6" y2="197.2"/>
<line x1="815.5" y1="235" x2="777.2" y2="247.6"/><polygon points="777.2,247.6 773.8,237.3 782.5,245.8" fill="#000"/><line x1="784.7" y1="245.1" x2="775.8" y2="236.7"/><line x1="788" y1="244" x2="783.4" y2="239.6"/>
<line x1="815.5" y1="270" x2="777.9" y2="284.4"/><polygon points="777.9,284.4 774,274.3 783.1,282.4" fill="#000"/><line x1="785.2" y1="281.6" x2="776" y2="273.5"/><line x1="788.5" y1="280.3" x2="783.7" y2="276.1"/>
<line x1="815.5" y1="307" x2="778.7" y2="323.4"/><polygon points="778.7,323.4 774.3,313.5 783.8,321.1" fill="#000"/><line x1="785.9" y1="320.2" x2="776.2" y2="312.7"/><line x1="789.1" y1="318.8" x2="784.1" y2="314.9"/>
<line x1="815.5" y1="351" x2="779.7" y2="369.4"/><polygon points="779.7,369.4 774.7,359.8 784.6,366.9" fill="#000"/><line x1="786.7" y1="365.8" x2="776.6" y2="358.9"/><line x1="789.8" y1="364.2" x2="784.5" y2="360.6"/>
<line x1="815.5" y1="401" x2="779.7" y2="419.4"/><polygon points="779.7,419.4 774.7,409.8 784.6,416.9" fill="#000"/><line x1="786.7" y1="415.8" x2="776.6" y2="408.9"/>
<line x1="815.5" y1="453" x2="780.3" y2="472.6"/><polygon points="780.3,472.6 775,463.2 785.2,469.9" fill="#000"/><line x1="787.2" y1="468.8" x2="776.9" y2="462.1"/>
<line x1="815.5" y1="503.5" x2="780.5" y2="523.5"/><polygon points="780.5,523.5 775.1,514.1 785.4,520.7" fill="#000"/><line x1="787.4" y1="519.6" x2="782" y2="516.2"/>
<line x1="815.5" y1="549" x2="780.3" y2="568.6"/><polygon points="780.3,568.6 775,559.2 785.2,565.9" fill="#000"/><line x1="787.2" y1="564.8" x2="781.8" y2="561.3"/>
<line x1="815.5" y1="587" x2="779.9" y2="605.9"/><polygon points="779.9,605.9 774.8,596.3 784.8,603.2" fill="#000"/>
<line x1="815.5" y1="618" x2="784.5" y2="633.5"/><line x1="784.5" y1="633.5" x2="774.5" y2="626.5"/><line x1="787.6" y1="632" x2="777.6" y2="624.9"/><line x1="790.7" y1="630.4" x2="780.7" y2="623.3"/><line x1="793.9" y1="628.8" x2="783.8" y2="621.8"/><line x1="797" y1="627.3" x2="791.8" y2="623.6"/>
<line x1="815.5" y1="644.5" x2="783.4" y2="657.7"/><line x1="783.4" y1="657.7" x2="773.9" y2="649.9"/><line x1="786.7" y1="656.4" x2="777.2" y2="648.6"/><line x1="789.9" y1="655.1" x2="780.4" y2="647.3"/><line x1="793.1" y1="653.7" x2="783.6" y2="645.9"/>
<line x1="815.5" y1="663" x2="783.6" y2="676.7"/><line x1="783.6" y1="676.7" x2="774" y2="669"/><line x1="786.8" y1="675.3" x2="777.2" y2="667.6"/><line x1="790" y1="673.9" x2="780.5" y2="666.3"/><line x1="793.3" y1="672.5" x2="788.3" y2="668.6"/>
<line x1="815.5" y1="680" x2="783.9" y2="694.4"/><line x1="783.9" y1="694.4" x2="774.2" y2="687"/><line x1="787.1" y1="693" x2="777.4" y2="685.6"/><line x1="790.3" y1="691.5" x2="780.5" y2="684.1"/><line x1="793.5" y1="690.1" x2="788.4" y2="686.2"/>
<line x1="815.5" y1="694" x2="784.4" y2="709.4"/><line x1="784.4" y1="709.4" x2="774.4" y2="702.3"/><line x1="787.5" y1="707.8" x2="777.5" y2="700.7"/><line x1="790.7" y1="706.3" x2="780.7" y2="699.2"/>
<line x1="815.5" y1="708" x2="784.6" y2="723.8"/><line x1="784.6" y1="723.8" x2="774.5" y2="716.8"/><line x1="787.7" y1="722.2" x2="777.6" y2="715.2"/><line x1="790.8" y1="720.6" x2="785.6" y2="716.9"/>
<line x1="815.5" y1="720.4" x2="784.2" y2="735.4"/><line x1="784.2" y1="735.4" x2="774.3" y2="728.2"/><line x1="787.4" y1="733.9" x2="777.5" y2="726.7"/>
<line x1="815.5" y1="732" x2="785.6" y2="749.6"/><line x1="785.6" y1="749.6" x2="775.1" y2="743.2"/><line x1="788.6" y1="747.8" x2="778.1" y2="741.5"/>
<line x1="815.5" y1="744.2" x2="787.4" y2="764.5"/><line x1="787.4" y1="764.5" x2="776.3" y2="759.1"/><line x1="790.2" y1="762.5" x2="779.2" y2="757.1"/>
<line x1="815.5" y1="754.2" x2="790.4" y2="778.2"/><line x1="790.4" y1="778.2" x2="778.8" y2="774.4"/><line x1="792.9" y1="775.8" x2="781.3" y2="772"/>
<line x1="815.5" y1="765" x2="790.7" y2="789.3"/><line x1="790.7" y1="789.3" x2="779" y2="785.6"/><line x1="793.2" y1="786.8" x2="787.1" y2="784.9"/>
<line x1="815.5" y1="774" x2="788.2" y2="795.4"/><line x1="788.2" y1="795.4" x2="776.9" y2="790.4"/><line x1="790.9" y1="793.2" x2="785.1" y2="790.6"/>
<line x1="815.5" y1="783" x2="784.3" y2="798.2"/><line x1="784.3" y1="798.2" x2="774.4" y2="791"/><line x1="787.5" y1="796.7" x2="782.3" y2="793"/>
<line x1="815.5" y1="792" x2="781.4" y2="798.2"/><line x1="781.4" y1="798.2" x2="773.7" y2="788.6"/><line x1="784.8" y1="797.6" x2="777.2" y2="788"/>
<line x1="815.5" y1="800.5" x2="780.8" y2="800.5"/><line x1="780.8" y1="800.5" x2="775" y2="789.7"/><line x1="784.3" y1="800.5" x2="778.5" y2="789.7"/>
<line x1="815.5" y1="809.6" x2="782.1" y2="800.2"/><line x1="782.1" y1="800.2" x2="779.5" y2="788.2"/><line x1="785.5" y1="801.1" x2="782.8" y2="789.1"/>
<line x1="815.5" y1="818.4" x2="783.9" y2="804"/><line x1="783.9" y1="804" x2="783.2" y2="791.7"/><line x1="787.1" y1="805.4" x2="786.4" y2="793.2"/>
<line x1="815.5" y1="825.6" x2="784.4" y2="810.2"/><line x1="784.4" y1="810.2" x2="784" y2="798"/><line x1="787.5" y1="811.8" x2="787.3" y2="805.4"/>
<line x1="815.5" y1="833.3" x2="783.9" y2="819"/><line x1="783.9" y1="819" x2="783" y2="806.8"/><line x1="787.1" y1="820.5" x2="786.6" y2="814.1"/>
<line x1="815.5" y1="840.8" x2="784.8" y2="824.7"/><line x1="784.8" y1="824.7" x2="784.7" y2="812.4"/><line x1="787.9" y1="826.3" x2="787.8" y2="819.9"/>
<line x1="815.5" y1="848.4" x2="785.3" y2="831.4"/><line x1="785.3" y1="831.4" x2="785.5" y2="819.1"/>
<line x1="815.5" y1="856" x2="786.4" y2="837.1"/><line x1="786.4" y1="837.1" x2="787.4" y2="824.9"/>
<line x1="815.5" y1="864.5" x2="788.2" y2="843.1"/><line x1="788.2" y1="843.1" x2="790.2" y2="831.1"/>
<line x1="815.5" y1="871.4" x2="790.1" y2="847.7"/><line x1="790.1" y1="847.7" x2="793.2" y2="835.9"/>
<line x1="815.5" y1="877.7" x2="791.8" y2="852.3"/><line x1="791.8" y1="852.3" x2="795.8" y2="840.7"/>
<line x1="815.5" y1="883.4" x2="793.5" y2="856.5"/><line x1="793.5" y1="856.5" x2="796" y2="850.7"/>
<line x1="815.5" y1="887.6" x2="795.4" y2="859.3"/><line x1="795.4" y1="859.3" x2="798.2" y2="853.6"/>
<line x1="815.5" y1="891.2" x2="796.9" y2="861.9"/><line x1="796.9" y1="861.9" x2="800" y2="856.4"/>
<line x1="815.5" y1="897.5" x2="799.2" y2="866.9"/><line x1="799.2" y1="866.9" x2="802.8" y2="861.6"/>
<line x1="815.5" y1="900" x2="800" y2="868.9"/><line x1="800" y1="868.9" x2="803.7" y2="863.7"/>
<line x1="815.5" y1="902" x2="800.6" y2="870.7"/><line x1="800.6" y1="870.7" x2="804.3" y2="865.5"/>
</g>
<polyline points="559.5,900.5 550.8,890 539.4,876.2 527.4,861.2 517.2,846.8 505.8,832.4 501.5,826.5" stroke="#800080" stroke-width="1.5" fill="none" stroke-dasharray="12.4 6.1"/>
<g stroke="#0064ff" stroke-width="0.9" fill="none"><line x1="277.4" y1="109.6" x2="272.6" y2="148"/><line x1="278.4" y1="109.6" x2="273.6" y2="148"/><line x1="279.4" y1="109.6" x2="274.6" y2="148"/><line x1="272.6" y1="148" x2="273.9" y2="181.6"/><line x1="273.6" y1="148" x2="274.9" y2="181.6"/><line x1="274.6" y1="148" x2="275.9" y2="181.6"/><line x1="273.9" y1="181.6" x2="274.5" y2="194.4"/><line x1="274.9" y1="181.6" x2="275.5" y2="194.4"/><line x1="275.9" y1="181.6" x2="276.5" y2="194.4"/><line x1="274.5" y1="194.4" x2="283.8" y2="232.8"/><line x1="275.5" y1="194.4" x2="284.8" y2="232.8"/><line x1="276.5" y1="194.4" x2="285.8" y2="232.8"/><line x1="283.8" y1="232.8" x2="294" y2="250"/><line x1="284.8" y1="232.8" x2="295" y2="250"/><line x1="285.8" y1="232.8" x2="296" y2="250"/><line x1="294" y1="250" x2="307" y2="270"/><line x1="295" y1="250" x2="308" y2="270"/><line x1="296" y1="250" x2="309" y2="270"/><line x1="307" y1="270" x2="314" y2="304"/><line x1="308" y1="270" x2="315" y2="304"/><line x1="309" y1="270" x2="316" y2="304"/><line x1="314" y1="304" x2="313.4" y2="330"/><line x1="315" y1="304" x2="314.4" y2="330"/><line x1="316" y1="304" x2="315.4" y2="330"/><line x1="313.4" y1="330" x2="313" y2="354"/><line x1="314.4" y1="330" x2="314" y2="354"/><line x1="315.4" y1="330" x2="315" y2="354"/><line x1="313" y1="354" x2="312" y2="378"/><line x1="314" y1="354" x2="313" y2="378"/><line x1="315" y1="354" x2="314" y2="378"/><line x1="312" y1="378" x2="312" y2="398"/><line x1="313" y1="378" x2="313" y2="398"/><line x1="314" y1="378" x2="314" y2="398"/><line x1="312" y1="398" x2="315" y2="426"/><line x1="313" y1="398" x2="316" y2="426"/><line x1="314" y1="398" x2="317" y2="426"/><line x1="315" y1="426" x2="317.6" y2="450"/><line x1="316" y1="426" x2="318.6" y2="450"/><line x1="317" y1="426" x2="319.6" y2="450"/><line x1="317.6" y1="450" x2="329" y2="483"/><line x1="318.6" y1="450" x2="330" y2="483"/><line x1="319.6" y1="450" x2="331" y2="483"/><line x1="329" y1="483" x2="335" y2="500"/><line x1="330" y1="483" x2="336" y2="500"/><line x1="331" y1="483" x2="337" y2="500"/><line x1="335" y1="500" x2="349" y2="528"/><line x1="336" y1="500" x2="350" y2="528"/><line x1="337" y1="500" x2="351" y2="528"/><line x1="349" y1="528" x2="365" y2="558"/><line x1="350" y1="528" x2="366" y2="558"/><line x1="351" y1="528" x2="367" y2="558"/><line x1="365" y1="558" x2="379" y2="586"/><line x1="366" y1="558" x2="380" y2="586"/><line x1="367" y1="558" x2="381" y2="586"/><line x1="379" y1="586" x2="390" y2="618"/><line x1="380" y1="586" x2="391" y2="618"/><line x1="381" y1="586" x2="392" y2="618"/><line x1="390" y1="618" x2="395.5" y2="650"/><line x1="391" y1="618" x2="396.5" y2="650"/><line x1="392" y1="618" x2="397.5" y2="650"/><line x1="395.5" y1="650" x2="398" y2="662"/><line x1="396.5" y1="650" x2="399" y2="662"/><line x1="397.5" y1="650" x2="400" y2="662"/><line x1="398" y1="662" x2="409" y2="682"/><line x1="399" y1="662" x2="410" y2="682"/><line x1="400" y1="662" x2="411" y2="682"/><line x1="409" y1="682" x2="419" y2="693"/><line x1="410" y1="682" x2="420" y2="693"/><line x1="411" y1="682" x2="421" y2="693"/><line x1="419" y1="693" x2="429" y2="710"/><line x1="420" y1="693" x2="430" y2="710"/><line x1="421" y1="693" x2="431" y2="710"/><line x1="429" y1="710" x2="437" y2="730"/><line x1="430" y1="710" x2="438" y2="730"/><line x1="431" y1="710" x2="439" y2="730"/><line x1="437" y1="730" x2="439" y2="746"/><line x1="438" y1="730" x2="440" y2="746"/><line x1="439" y1="730" x2="441" y2="746"/><line x1="439" y1="746" x2="442" y2="763"/><line x1="440" y1="746" x2="443" y2="763"/><line x1="441" y1="746" x2="444" y2="763"/><line x1="442" y1="763" x2="440" y2="774"/><line x1="443" y1="763" x2="441" y2="774"/><line x1="444" y1="763" x2="442" y2="774"/><line x1="440" y1="774" x2="436" y2="783"/><line x1="441" y1="774" x2="437" y2="783"/><line x1="442" y1="774" x2="438" y2="783"/><line x1="436" y1="783" x2="420.5" y2="800"/><line x1="437" y1="783" x2="421.5" y2="800"/><line x1="438" y1="783" x2="422.5" y2="800"/><line x1="420.5" y1="800" x2="427" y2="808"/><line x1="421.5" y1="800" x2="428" y2="808"/><line x1="422.5" y1="800" x2="429" y2="808"/><line x1="428" y1="807" x2="446" y2="817"/><line x1="428" y1="808" x2="446" y2="818"/><line x1="428" y1="809" x2="446" y2="819"/><line x1="446" y1="817" x2="458" y2="827"/><line x1="446" y1="818" x2="458" y2="828"/><line x1="446" y1="819" x2="458" y2="829"/><line x1="457" y1="828" x2="460" y2="834"/><line x1="458" y1="828" x2="461" y2="834"/><line x1="459" y1="828" x2="462" y2="834"/><line x1="460" y1="834" x2="459.4" y2="850"/><line x1="461" y1="834" x2="460.4" y2="850"/><line x1="462" y1="834" x2="461.4" y2="850"/><line x1="459.4" y1="850" x2="456" y2="870"/><line x1="460.4" y1="850" x2="457" y2="870"/><line x1="461.4" y1="850" x2="458" y2="870"/><line x1="456" y1="870" x2="454.6" y2="884"/><line x1="457" y1="870" x2="455.6" y2="884"/><line x1="458" y1="870" x2="456.6" y2="884"/><line x1="454.6" y1="884" x2="455" y2="896"/><line x1="455.6" y1="884" x2="456" y2="896"/><line x1="456.6" y1="884" x2="457" y2="896"/><line x1="455" y1="896" x2="458" y2="900"/><line x1="456" y1="896" x2="459" y2="900"/><line x1="457" y1="896" x2="460" y2="900"/><line x1="459" y1="899" x2="462.4" y2="899.6"/><line x1="459" y1="900" x2="462.4" y2="900.6"/><line x1="459" y1="901" x2="462.4" y2="901.6"/></g>
<g stroke="#ff0000" stroke-width="0.9" fill="none"><line x1="345.4" y1="109.6" x2="335.8" y2="151.2"/><line x1="346.4" y1="109.6" x2="336.8" y2="151.2"/><line x1="347.4" y1="109.6" x2="337.8" y2="151.2"/><line x1="335.8" y1="151.2" x2="336.6" y2="181.6"/><line x1="336.8" y1="151.2" x2="337.6" y2="181.6"/><line x1="337.8" y1="151.2" x2="338.6" y2="181.6"/><line x1="336.6" y1="181.6" x2="336.6" y2="194.4"/><line x1="337.6" y1="181.6" x2="337.6" y2="194.4"/><line x1="338.6" y1="181.6" x2="338.6" y2="194.4"/><line x1="336.6" y1="194.4" x2="344.6" y2="228"/><line x1="337.6" y1="194.4" x2="345.6" y2="228"/><line x1="338.6" y1="194.4" x2="346.6" y2="228"/><line x1="344.6" y1="228" x2="352" y2="250"/><line x1="345.6" y1="228" x2="353" y2="250"/><line x1="346.6" y1="228" x2="354" y2="250"/><line x1="352" y1="250" x2="363" y2="280"/><line x1="353" y1="250" x2="364" y2="280"/><line x1="354" y1="250" x2="365" y2="280"/><line x1="363" y1="280" x2="377" y2="320"/><line x1="364" y1="280" x2="378" y2="320"/><line x1="365" y1="280" x2="379" y2="320"/><line x1="377" y1="320" x2="390.6" y2="354"/><line x1="378" y1="320" x2="391.6" y2="354"/><line x1="379" y1="320" x2="392.6" y2="354"/><line x1="390.6" y1="354" x2="405" y2="394"/><line x1="391.6" y1="354" x2="406" y2="394"/><line x1="392.6" y1="354" x2="407" y2="394"/><line x1="405" y1="394" x2="419" y2="430"/><line x1="406" y1="394" x2="420" y2="430"/><line x1="407" y1="394" x2="421" y2="430"/><line x1="419" y1="430" x2="425" y2="450"/><line x1="420" y1="430" x2="426" y2="450"/><line x1="421" y1="430" x2="427" y2="450"/><line x1="425" y1="450" x2="436" y2="485"/><line x1="426" y1="450" x2="437" y2="485"/><line x1="427" y1="450" x2="438" y2="485"/><line x1="436" y1="485" x2="443" y2="504"/><line x1="437" y1="485" x2="444" y2="504"/><line x1="438" y1="485" x2="445" y2="504"/><line x1="443" y1="504" x2="454" y2="550"/><line x1="444" y1="504" x2="455" y2="550"/><line x1="445" y1="504" x2="456" y2="550"/><line x1="454" y1="550" x2="461" y2="586"/><line x1="455" y1="550" x2="462" y2="586"/><line x1="456" y1="550" x2="463" y2="586"/><line x1="461" y1="586" x2="468" y2="624"/><line x1="462" y1="586" x2="469" y2="624"/><line x1="463" y1="586" x2="470" y2="624"/><line x1="468" y1="624" x2="470.5" y2="650"/><line x1="469" y1="624" x2="471.5" y2="650"/><line x1="470" y1="624" x2="472.5" y2="650"/><line x1="470.5" y1="650" x2="474" y2="670"/><line x1="471.5" y1="650" x2="475" y2="670"/><line x1="472.5" y1="650" x2="476" y2="670"/><line x1="474" y1="670" x2="474.6" y2="690"/><line x1="475" y1="670" x2="475.6" y2="690"/><line x1="476" y1="670" x2="476.6" y2="690"/><line x1="474.6" y1="690" x2="478" y2="710"/><line x1="475.6" y1="690" x2="479" y2="710"/><line x1="476.6" y1="690" x2="480" y2="710"/><line x1="478" y1="710" x2="485" y2="730"/><line x1="479" y1="710" x2="486" y2="730"/><line x1="480" y1="710" x2="487" y2="730"/><line x1="485" y1="730" x2="492" y2="746"/><line x1="486" y1="730" x2="493" y2="746"/><line x1="487" y1="730" x2="494" y2="746"/><line x1="492" y1="746" x2="498" y2="766"/><line x1="493" y1="746" x2="499" y2="766"/><line x1="494" y1="746" x2="500" y2="766"/><line x1="498" y1="766" x2="504" y2="790"/><line x1="499" y1="766" x2="505" y2="790"/><line x1="500" y1="766" x2="506" y2="790"/><line x1="504" y1="790" x2="504.6" y2="800"/><line x1="505" y1="790" x2="505.6" y2="800"/><line x1="506" y1="790" x2="506.6" y2="800"/><line x1="504.6" y1="800" x2="499" y2="816"/><line x1="505.6" y1="800" x2="500" y2="816"/><line x1="506.6" y1="800" x2="501" y2="816"/><line x1="499" y1="816" x2="499.6" y2="826"/><line x1="500" y1="816" x2="500.6" y2="826"/><line x1="501" y1="816" x2="501.6" y2="826"/><line x1="499.6" y1="826" x2="513" y2="848"/><line x1="500.6" y1="826" x2="514" y2="848"/><line x1="501.6" y1="826" x2="515" y2="848"/><line x1="513" y1="848" x2="531" y2="872"/><line x1="514" y1="848" x2="532" y2="872"/><line x1="515" y1="848" x2="533" y2="872"/><line x1="531" y1="872" x2="547" y2="892"/><line x1="532" y1="872" x2="548" y2="892"/><line x1="533" y1="872" x2="549" y2="892"/><line x1="548" y1="891" x2="556" y2="898"/><line x1="548" y1="892" x2="556" y2="899"/><line x1="548" y1="893" x2="556" y2="900"/><line x1="556" y1="898" x2="559" y2="899.6"/><line x1="556" y1="899" x2="559" y2="900.6"/><line x1="556" y1="900" x2="559" y2="901.6"/></g>
<circle cx="473" cy="900.6" r="4" fill="#0064ff" shape-rendering="geometricPrecision"/>
<circle cx="564.4" cy="900.6" r="4" fill="#ff0000" shape-rendering="geometricPrecision"/>
</g>
<g>
<circle cx="32" cy="42" r="4.7" fill="#000"/>
<text x="45.5" y="50.5" font-size="23.6" text-anchor="start" fill="#000" stroke="#000" stroke-width="0.45">YomiuriKazoGP</text>
<text x="217.5" y="47" font-size="14.4" text-anchor="start" fill="#000" stroke="#000" stroke-width="0.45">36.1589&#176;,139.68&#176; (96,54)</text>
<text x="400" y="50" font-size="23.2" text-anchor="start" fill="#000" stroke="#000" stroke-width="0.45">Valid 1200 JST</text>
<text x="0" y="0" font-size="15.6" text-anchor="start" fill="#000" stroke="#000" stroke-width="0.45" transform="translate(563.5 48.7) scale(1.1 1)">(0300Z)</text>
<text x="631" y="50" font-size="23.3" text-anchor="start" fill="#000" stroke="#000" stroke-width="0.45">MON 23 Feb 2015</text>
<text x="0" y="0" font-size="15.8" text-anchor="start" fill="#000" stroke="#000" stroke-width="0.45" transform="translate(829 48.7) scale(1.1 1)">[9hrFcst@2249z]</text>
<text x="0" y="0" font-size="13.3" text-anchor="start" fill="#a0004b" stroke="#a0004b" stroke-width="0.6" transform="translate(335 71) scale(1.06 1)">Plcl=867 Tlcl[C]=5 Shox=8 Pwat[cm]=2 Cape[J]= 16</text>
<text x="56" y="81.5" font-size="18.5" text-anchor="end" fill="#000" stroke="#000" stroke-width="0.45">250</text>
<text x="56" y="189.5" font-size="18.5" text-anchor="end" fill="#000" stroke="#000" stroke-width="0.45">300</text>
<text x="56" y="359.8" font-size="18.5" text-anchor="end" fill="#000" stroke="#000" stroke-width="0.45">400</text>
<text x="56" y="492" font-size="18.5" text-anchor="end" fill="#000" stroke="#000" stroke-width="0.45">500</text>
<text x="56" y="691.2" font-size="18.5" text-anchor="end" fill="#000" stroke="#000" stroke-width="0.45">700</text>
<text x="56" y="806.2" font-size="18.5" text-anchor="end" fill="#000" stroke="#000" stroke-width="0.45">850</text>
<text x="56" y="902.5" font-size="18.5" text-anchor="end" fill="#000" stroke="#000" stroke-width="0.45">1000</text>
<text x="103.2" y="962.5" font-size="18.5" text-anchor="middle" fill="#000" stroke="#000" stroke-width="0.45">-30</text>
<text x="196.5" y="962.5" font-size="18.5" text-anchor="middle" fill="#000" stroke="#000" stroke-width="0.45">-20</text>
<text x="289.8" y="962.5" font-size="18.5" text-anchor="middle" fill="#000" stroke="#000" stroke-width="0.45">-10</text>
<text x="384.5" y="962.5" font-size="18.5" text-anchor="middle" fill="#000" stroke="#000" stroke-width="0.45">0</text>
<text x="477.8" y="962.5" font-size="18.5" text-anchor="middle" fill="#000" stroke="#000" stroke-width="0.45">10</text>
<text x="571" y="962.5" font-size="18.5" text-anchor="middle" fill="#000" stroke="#000" stroke-width="0.45">20</text>
<text x="664.2" y="962.5" font-size="18.5" text-anchor="middle" fill="#000" stroke="#000" stroke-width="0.45">30</text>
<text x="757.5" y="962.5" font-size="18.5" text-anchor="middle" fill="#000" stroke="#000" stroke-width="0.45">40</text>
<text x="495.5" y="985.5" font-size="17" text-anchor="middle" fill="#000" stroke="#000" stroke-width="0.45">Temperature (C)</text>
<text x="22" y="520" font-size="17" text-anchor="middle" fill="#000" stroke="#000" stroke-width="0.45" transform="rotate(-90 22 520)">P (hPa)</text>
<text x="885" y="500" font-size="19.5" text-anchor="middle" fill="#000" stroke="#000" stroke-width="0.45" transform="rotate(90 885 500)">Height (1000 Feet)</text>
<text x="942" y="136.4" font-size="18.5" text-anchor="start" fill="#000" stroke="#000" stroke-width="0.45">32</text>
<text x="942" y="191.4" font-size="18.5" text-anchor="start" fill="#000" stroke="#000" stroke-width="0.45">30</text>
<text x="942" y="244.4" font-size="18.5" text-anchor="start" fill="#000" stroke="#000" stroke-width="0.45">28</text>
<text x="942" y="297.4" font-size="18.5" text-anchor="start" fill="#000" stroke="#000" stroke-width="0.45">26</text>
<text x="942" y="348.4" font-size="18.5" text-anchor="start" fill="#000" stroke="#000" stroke-width="0.45">24</text>
<text x="942" y="399.4" font-size="18.5" text-anchor="start" fill="#000" stroke="#000" stroke-width="0.45">22</text>
<text x="942" y="449.4" font-size="18.5" text-anchor="start" fill="#000" stroke="#000" stroke-width="0.45">20</text>
<text x="942" y="498.4" font-size="18.5" text-anchor="start" fill="#000" stroke="#000" stroke-width="0.45">18</text>
<text x="942" y="547.4" font-size="18.5" text-anchor="start" fill="#000" stroke="#000" stroke-width="0.45">16</text>
<text x="942" y="595" font-size="18.5" text-anchor="start" fill="#000" stroke="#000" stroke-width="0.45">14</text>
<text x="942" y="642.6" font-size="18.5" text-anchor="start" fill="#000" stroke="#000" stroke-width="0.45">12</text>
<text x="942" y="688.4" font-size="18.5" text-anchor="start" fill="#000" stroke="#000" stroke-width="0.45">10</text>
<text x="942" y="734.4" font-size="18.5" text-anchor="start" fill="#000" stroke="#000" stroke-width="0.45">8</text>
<text x="942" y="778.4" font-size="18.5" text-anchor="start" fill="#000" stroke="#000" stroke-width="0.45">6</text>
<text x="942" y="823.4" font-size="18.5" text-anchor="start" fill="#000" stroke="#000" stroke-width="0.45">4</text>
<text x="942" y="867" font-size="18.5" text-anchor="start" fill="#000" stroke="#000" stroke-width="0.45">2</text>
<text x="942" y="909.4" font-size="18.5" text-anchor="start" fill="#000" stroke="#000" stroke-width="0.45">0</text>
<text x="0" y="0" font-size="12.7" text-anchor="middle" fill="#00b000" stroke="#00b000" stroke-width="0.6" transform="translate(69.5 71.5) scale(1.1 1)">0.0</text>
<text x="0" y="0" font-size="12.7" text-anchor="middle" fill="#000" stroke="#000" stroke-width="0.6" transform="translate(69.5 88.5) scale(1.1 1)">0.0</text>
<text x="0" y="0" font-size="12.7" text-anchor="middle" fill="#00b000" stroke="#00b000" stroke-width="0.6" transform="translate(69.5 922) scale(1.1 1)">0.0</text>
<text x="0" y="0" font-size="12.7" text-anchor="middle" fill="#000" stroke="#000" stroke-width="0.6" transform="translate(69.5 938.5) scale(1.1 1)">0.0</text>
<text x="0" y="0" font-size="12.7" text-anchor="middle" fill="#00b000" stroke="#00b000" stroke-width="0.6" transform="translate(104.5 71.5) scale(1.1 1)">0.5</text>
<text x="0" y="0" font-size="12.7" text-anchor="middle" fill="#000" stroke="#000" stroke-width="0.6" transform="translate(104.5 88.5) scale(1.1 1)">0.5</text>
<text x="0" y="0" font-size="12.7" text-anchor="middle" fill="#00b000" stroke="#00b000" stroke-width="0.6" transform="translate(104.5 922) scale(1.1 1)">0.5</text>
<text x="0" y="0" font-size="12.7" text-anchor="middle" fill="#000" stroke="#000" stroke-width="0.6" transform="translate(104.5 938.5) scale(1.1 1)">0.5</text>
<text x="0" y="0" font-size="12.7" text-anchor="middle" fill="#00b000" stroke="#00b000" stroke-width="0.6" transform="translate(139.5 71.5) scale(1.1 1)">1.0</text>
<text x="0" y="0" font-size="12.7" text-anchor="middle" fill="#000" stroke="#000" stroke-width="0.6" transform="translate(139.5 88.5) scale(1.1 1)">1.0</text>
<text x="0" y="0" font-size="12.7" text-anchor="middle" fill="#00b000" stroke="#00b000" stroke-width="0.6" transform="translate(139.5 922) scale(1.1 1)">1.0</text>
<text x="0" y="0" font-size="12.7" text-anchor="middle" fill="#000" stroke="#000" stroke-width="0.6" transform="translate(139.5 938.5) scale(1.1 1)">1.0</text>
<text x="0" y="0" font-size="13.2" text-anchor="start" fill="#00b000" stroke="#00b000" stroke-width="0.6" transform="translate(157 922) scale(1.06 1)">CloudWater (g/Kg)</text>
<text x="0" y="0" font-size="13.2" text-anchor="start" fill="#000" stroke="#000" stroke-width="0.6" transform="translate(157 938.5) scale(1.06 1)">Grid-Scale Cloudiness</text>
<text x="0" y="0" font-size="13.4" text-anchor="middle" fill="#ff0000" stroke="#ff0000" stroke-width="0.5" transform="translate(815.5 90.5) scale(1.05 1)">0</text>
<text x="0" y="0" font-size="13.4" text-anchor="middle" fill="#ff0000" stroke="#ff0000" stroke-width="0.5" transform="translate(815.5 923.5) scale(1.05 1)">0</text>
<text x="0" y="0" font-size="13.4" text-anchor="middle" fill="#ff0000" stroke="#ff0000" stroke-width="0.5" transform="translate(867.5 90.5) scale(1.05 1)">40</text>
<text x="0" y="0" font-size="13.4" text-anchor="middle" fill="#ff0000" stroke="#ff0000" stroke-width="0.5" transform="translate(867.5 923.5) scale(1.05 1)">40</text>
<text x="0" y="0" font-size="13.4" text-anchor="middle" fill="#ff0000" stroke="#ff0000" stroke-width="0.5" transform="translate(919.5 90.5) scale(1.05 1)">80</text>
<text x="0" y="0" font-size="13.4" text-anchor="middle" fill="#ff0000" stroke="#ff0000" stroke-width="0.5" transform="translate(919.5 923.5) scale(1.05 1)">80</text>
<text x="0" y="0" font-size="13.4" text-anchor="middle" fill="#ff0000" stroke="#ff0000" stroke-width="0.5" transform="translate(971 90.5) scale(1.05 1)">120</text>
<text x="0" y="0" font-size="13.4" text-anchor="middle" fill="#ff0000" stroke="#ff0000" stroke-width="0.5" transform="translate(971 923.5) scale(1.05 1)">120</text>
<text x="869" y="939.5" font-size="14" text-anchor="middle" fill="#ff0000" stroke="#ff0000" stroke-width="0.4">Speed (kt)</text>
<polyline points="941,109 919,163 908.6,197 901,240 900.6,250 897.6,270 896.4,310 895.4,350 894.6,400 893.2,420 892,450 889.6,500 887,530 884.5,560 883,580 878.5,610 870,640 867,650 862,670 857.6,686 855,696 848,712 843,722 841,730 840.4,742 839,754 835,764 831.4,772 832.6,780 837,790 840.6,800 840.6,808 837,818 833,828 830,840 827.6,852 826,864 825,876 824,886 823.4,896 822,900" stroke="#ff0000" stroke-width="0.9" fill="none" shape-rendering="crispEdges"/>
</g>
</svg>
</body></html>
